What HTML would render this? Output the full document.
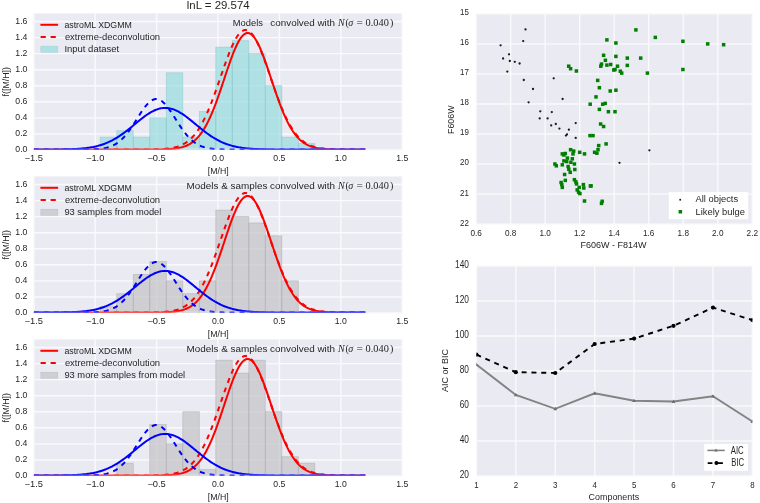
<!DOCTYPE html><html><head><meta charset="utf-8"><title>XDGMM</title><style>html,body{margin:0;padding:0;background:#fff;}svg{display:block;filter:blur(0.45px);}</style></head><body>
<svg width="760" height="503" viewBox="0 0 760 503">
<rect width="760" height="503" fill="#fff"/>
<clipPath id="cl0"><rect x="33.8" y="13.49" width="368.4" height="136.51"/></clipPath>
<rect x="33.8" y="13.49" width="368.4" height="136.51" fill="#EAEAF2"/>
<path d="M33.8,13.49V150M95.2,13.49V150M156.6,13.49V150M218,13.49V150M279.4,13.49V150M340.8,13.49V150M402.2,13.49V150M33.8,150H402.2M33.8,133.94H402.2M33.8,117.88H402.2M33.8,101.82H402.2M33.8,85.76H402.2M33.8,69.7H402.2M33.8,53.64H402.2M33.8,37.58H402.2M33.8,21.52H402.2" stroke="#FAFAFC" stroke-width="1.4" fill="none"/>
<g clip-path="url(#cl0)">
<rect x="100.27" y="137.14" width="16.5" height="12.86" fill="rgba(134,216,219,0.6)" stroke="rgba(130,196,202,0.5)" stroke-width="0.8"/>
<rect x="116.78" y="130.7" width="16.5" height="19.3" fill="rgba(134,216,219,0.6)" stroke="rgba(130,196,202,0.5)" stroke-width="0.8"/>
<rect x="133.28" y="137.14" width="16.5" height="12.86" fill="rgba(134,216,219,0.6)" stroke="rgba(130,196,202,0.5)" stroke-width="0.8"/>
<rect x="149.78" y="117.84" width="16.5" height="32.16" fill="rgba(134,216,219,0.6)" stroke="rgba(130,196,202,0.5)" stroke-width="0.8"/>
<rect x="166.29" y="72.82" width="16.5" height="77.18" fill="rgba(134,216,219,0.6)" stroke="rgba(130,196,202,0.5)" stroke-width="0.8"/>
<rect x="182.79" y="137.14" width="16.5" height="12.86" fill="rgba(134,216,219,0.6)" stroke="rgba(130,196,202,0.5)" stroke-width="0.8"/>
<rect x="199.3" y="111.41" width="16.5" height="38.59" fill="rgba(134,216,219,0.6)" stroke="rgba(130,196,202,0.5)" stroke-width="0.8"/>
<rect x="215.8" y="47.09" width="16.5" height="102.91" fill="rgba(134,216,219,0.6)" stroke="rgba(130,196,202,0.5)" stroke-width="0.8"/>
<rect x="232.31" y="40.66" width="16.5" height="109.34" fill="rgba(134,216,219,0.6)" stroke="rgba(130,196,202,0.5)" stroke-width="0.8"/>
<rect x="248.81" y="53.52" width="16.5" height="96.48" fill="rgba(134,216,219,0.6)" stroke="rgba(130,196,202,0.5)" stroke-width="0.8"/>
<rect x="265.31" y="85.68" width="16.5" height="64.32" fill="rgba(134,216,219,0.6)" stroke="rgba(130,196,202,0.5)" stroke-width="0.8"/>
<rect x="281.82" y="137.14" width="16.5" height="12.86" fill="rgba(134,216,219,0.6)" stroke="rgba(130,196,202,0.5)" stroke-width="0.8"/>
<rect x="298.32" y="143.57" width="16.5" height="6.43" fill="rgba(134,216,219,0.6)" stroke="rgba(130,196,202,0.5)" stroke-width="0.8"/>
<path d="M33.8,149.5 L34.91,149.5 L36.01,149.5 L37.12,149.5 L38.22,149.5 L39.33,149.5 L40.43,149.5 L41.54,149.5 L42.64,149.5 L43.75,149.5 L44.85,149.5 L45.96,149.5 L47.06,149.5 L48.17,149.5 L49.27,149.5 L50.38,149.5 L51.48,149.5 L52.59,149.5 L53.69,149.5 L54.8,149.5 L55.9,149.5 L57.01,149.5 L58.11,149.5 L59.22,149.5 L60.32,149.5 L61.43,149.5 L62.54,149.5 L63.64,149.5 L64.75,149.5 L65.85,149.5 L66.96,149.5 L68.06,149.5 L69.17,149.5 L70.27,149.5 L71.38,149.5 L72.48,149.5 L73.59,149.5 L74.69,149.5 L75.8,149.5 L76.9,149.5 L78.01,149.5 L79.11,149.5 L80.22,149.5 L81.32,149.5 L82.43,149.5 L83.53,149.5 L84.64,149.5 L85.74,149.5 L86.85,149.5 L87.95,149.5 L89.06,149.5 L90.17,149.5 L91.27,149.5 L92.38,149.5 L93.48,149.5 L94.59,149.5 L95.69,149.5 L96.8,149.5 L97.9,149.5 L99.01,149.5 L100.11,149.5 L101.22,149.5 L102.32,149.5 L103.43,149.5 L104.53,149.5 L105.64,149.5 L106.74,149.5 L107.85,149.5 L108.95,149.5 L110.06,149.5 L111.16,149.5 L112.27,149.5 L113.37,149.5 L114.48,149.5 L115.58,149.5 L116.69,149.5 L117.8,149.5 L118.9,149.5 L120.01,149.5 L121.11,149.5 L122.22,149.5 L123.32,149.5 L124.43,149.5 L125.53,149.5 L126.64,149.5 L127.74,149.5 L128.85,149.5 L129.95,149.5 L131.06,149.5 L132.16,149.5 L133.27,149.5 L134.37,149.5 L135.48,149.5 L136.58,149.5 L137.69,149.5 L138.79,149.5 L139.9,149.5 L141,149.5 L142.11,149.5 L143.21,149.49 L144.32,149.49 L145.43,149.49 L146.53,149.49 L147.64,149.49 L148.74,149.48 L149.85,149.48 L150.95,149.48 L152.06,149.47 L153.16,149.47 L154.27,149.46 L155.37,149.45 L156.48,149.44 L157.58,149.43 L158.69,149.41 L159.79,149.4 L160.9,149.38 L162,149.35 L163.11,149.33 L164.21,149.29 L165.32,149.26 L166.42,149.21 L167.53,149.16 L168.63,149.1 L169.74,149.04 L170.84,148.96 L171.95,148.87 L173.06,148.77 L174.16,148.65 L175.27,148.51 L176.37,148.36 L177.48,148.19 L178.58,147.99 L179.69,147.76 L180.79,147.51 L181.9,147.23 L183,146.91 L184.11,146.55 L185.21,146.16 L186.32,145.71 L187.42,145.22 L188.53,144.67 L189.63,144.07 L190.74,143.41 L191.84,142.68 L192.95,141.87 L194.05,141 L195.16,140.04 L196.26,139 L197.37,137.86 L198.47,136.64 L199.58,135.32 L200.69,133.9 L201.79,132.37 L202.9,130.73 L204,128.99 L205.11,127.13 L206.21,125.16 L207.32,123.07 L208.42,120.87 L209.53,118.55 L210.63,116.12 L211.74,113.58 L212.84,110.93 L213.95,108.17 L215.05,105.32 L216.16,102.38 L217.26,99.35 L218.37,96.24 L219.47,93.07 L220.58,89.84 L221.68,86.57 L222.79,83.26 L223.89,79.94 L225,76.61 L226.1,73.29 L227.21,70 L228.32,66.75 L229.42,63.55 L230.53,60.43 L231.63,57.41 L232.74,54.49 L233.84,51.69 L234.95,49.04 L236.05,46.54 L237.16,44.22 L238.26,42.08 L239.37,40.14 L240.47,38.41 L241.58,36.91 L242.68,35.64 L243.79,34.61 L244.89,33.83 L246,33.3 L247.1,33.02 L248.21,33.01 L249.31,33.25 L250.42,33.76 L251.52,34.51 L252.63,35.51 L253.73,36.76 L254.84,38.23 L255.95,39.94 L257.05,41.85 L258.16,43.97 L259.26,46.27 L260.37,48.75 L261.47,51.39 L262.58,54.17 L263.68,57.08 L264.79,60.09 L265.89,63.2 L267,66.39 L268.1,69.63 L269.21,72.92 L270.31,76.24 L271.42,79.57 L272.52,82.9 L273.63,86.2 L274.73,89.48 L275.84,92.71 L276.94,95.89 L278.05,99.01 L279.15,102.04 L280.26,105 L281.36,107.86 L282.47,110.63 L283.58,113.29 L284.68,115.84 L285.79,118.29 L286.89,120.62 L288,122.83 L289.1,124.93 L290.21,126.92 L291.31,128.79 L292.42,130.55 L293.52,132.19 L294.63,133.73 L295.73,135.17 L296.84,136.5 L297.94,137.73 L299.05,138.87 L300.15,139.93 L301.26,140.89 L302.36,141.78 L303.47,142.59 L304.57,143.33 L305.68,144 L306.78,144.61 L307.89,145.16 L308.99,145.66 L310.1,146.11 L311.21,146.51 L312.31,146.87 L313.42,147.19 L314.52,147.48 L315.63,147.74 L316.73,147.96 L317.84,148.16 L318.94,148.34 L320.05,148.5 L321.15,148.63 L322.26,148.75 L323.36,148.86 L324.47,148.95 L325.57,149.03 L326.68,149.1 L327.78,149.16 L328.89,149.21 L329.99,149.25 L331.1,149.29 L332.2,149.32 L333.31,149.35 L334.41,149.37 L335.52,149.39 L336.62,149.41 L337.73,149.43 L338.84,149.44 L339.94,149.45 L341.05,149.46 L342.15,149.46 L343.26,149.47 L344.36,149.48 L345.47,149.48 L346.57,149.48 L347.68,149.49 L348.78,149.49 L349.89,149.49 L350.99,149.49 L352.1,149.49 L353.2,149.5 L354.31,149.5 L355.41,149.5 L356.52,149.5 L357.62,149.5 L358.73,149.5 L359.83,149.5 L360.94,149.5 L362.04,149.5 L363.15,149.5 L364.25,149.5 L365.36,149.5" stroke="#FF0000" stroke-width="2" fill="none"/>
<path d="M33.8,149.5 L34.91,149.5 L36.01,149.5 L37.12,149.5 L38.22,149.5 L39.33,149.5 L40.43,149.5 L41.54,149.5 L42.64,149.5 L43.75,149.5 L44.85,149.5 L45.96,149.5 L47.06,149.5 L48.17,149.5 L49.27,149.5 L50.38,149.5 L51.48,149.5 L52.59,149.5 L53.69,149.5 L54.8,149.5 L55.9,149.5 L57.01,149.5 L58.11,149.5 L59.22,149.5 L60.32,149.5 L61.43,149.5 L62.54,149.5 L63.64,149.5 L64.75,149.5 L65.85,149.5 L66.96,149.5 L68.06,149.5 L69.17,149.5 L70.27,149.5 L71.38,149.5 L72.48,149.5 L73.59,149.5 L74.69,149.5 L75.8,149.5 L76.9,149.5 L78.01,149.5 L79.11,149.5 L80.22,149.5 L81.32,149.5 L82.43,149.5 L83.53,149.5 L84.64,149.5 L85.74,149.5 L86.85,149.5 L87.95,149.5 L89.06,149.5 L90.17,149.5 L91.27,149.5 L92.38,149.5 L93.48,149.5 L94.59,149.5 L95.69,149.5 L96.8,149.5 L97.9,149.5 L99.01,149.5 L100.11,149.5 L101.22,149.5 L102.32,149.5 L103.43,149.5 L104.53,149.5 L105.64,149.5 L106.74,149.5 L107.85,149.5 L108.95,149.5 L110.06,149.5 L111.16,149.5 L112.27,149.5 L113.37,149.5 L114.48,149.5 L115.58,149.5 L116.69,149.5 L117.8,149.5 L118.9,149.5 L120.01,149.5 L121.11,149.5 L122.22,149.5 L123.32,149.5 L124.43,149.5 L125.53,149.5 L126.64,149.5 L127.74,149.5 L128.85,149.5 L129.95,149.5 L131.06,149.5 L132.16,149.5 L133.27,149.5 L134.37,149.49 L135.48,149.49 L136.58,149.49 L137.69,149.49 L138.79,149.49 L139.9,149.48 L141,149.48 L142.11,149.48 L143.21,149.47 L144.32,149.47 L145.43,149.46 L146.53,149.45 L147.64,149.45 L148.74,149.44 L149.85,149.42 L150.95,149.41 L152.06,149.39 L153.16,149.37 L154.27,149.35 L155.37,149.33 L156.48,149.3 L157.58,149.26 L158.69,149.22 L159.79,149.18 L160.9,149.12 L162,149.06 L163.11,148.99 L164.21,148.91 L165.32,148.82 L166.42,148.72 L167.53,148.6 L168.63,148.47 L169.74,148.32 L170.84,148.15 L171.95,147.96 L173.06,147.75 L174.16,147.51 L175.27,147.24 L176.37,146.95 L177.48,146.62 L178.58,146.25 L179.69,145.84 L180.79,145.39 L181.9,144.89 L183,144.35 L184.11,143.75 L185.21,143.09 L186.32,142.37 L187.42,141.59 L188.53,140.73 L189.63,139.81 L190.74,138.81 L191.84,137.72 L192.95,136.56 L194.05,135.3 L195.16,133.96 L196.26,132.52 L197.37,130.98 L198.47,129.35 L199.58,127.61 L200.69,125.77 L201.79,123.83 L202.9,121.78 L204,119.62 L205.11,117.37 L206.21,115.01 L207.32,112.55 L208.42,109.99 L209.53,107.34 L210.63,104.59 L211.74,101.77 L212.84,98.86 L213.95,95.89 L215.05,92.85 L216.16,89.75 L217.26,86.61 L218.37,83.44 L219.47,80.24 L220.58,77.03 L221.68,73.82 L222.79,70.62 L223.89,67.45 L225,64.32 L226.1,61.24 L227.21,58.23 L228.32,55.3 L229.42,52.47 L230.53,49.76 L231.63,47.16 L232.74,44.71 L233.84,42.41 L234.95,40.27 L236.05,38.31 L237.16,36.53 L238.26,34.96 L239.37,33.58 L240.47,32.43 L241.58,31.49 L242.68,30.78 L243.79,30.3 L244.89,30.05 L246,30.04 L247.1,30.26 L248.21,30.71 L249.31,31.4 L250.42,32.31 L251.52,33.44 L252.63,34.79 L253.73,36.35 L254.84,38.1 L255.95,40.04 L257.05,42.16 L258.16,44.45 L259.26,46.88 L260.37,49.46 L261.47,52.17 L262.58,54.98 L263.68,57.9 L264.79,60.9 L265.89,63.97 L267,67.1 L268.1,70.26 L269.21,73.46 L270.31,76.67 L271.42,79.88 L272.52,83.08 L273.63,86.26 L274.73,89.41 L275.84,92.5 L276.94,95.55 L278.05,98.53 L279.15,101.45 L280.26,104.28 L281.36,107.04 L282.47,109.7 L283.58,112.27 L284.68,114.74 L285.79,117.11 L286.89,119.38 L288,121.54 L289.1,123.6 L290.21,125.56 L291.31,127.41 L292.42,129.16 L293.52,130.81 L294.63,132.35 L295.73,133.8 L296.84,135.16 L297.94,136.42 L299.05,137.6 L300.15,138.69 L301.26,139.7 L302.36,140.63 L303.47,141.49 L304.57,142.29 L305.68,143.01 L306.78,143.68 L307.89,144.28 L308.99,144.83 L310.1,145.34 L311.21,145.79 L312.31,146.2 L313.42,146.58 L314.52,146.91 L315.63,147.21 L316.73,147.48 L317.84,147.72 L318.94,147.94 L320.05,148.13 L321.15,148.3 L322.26,148.46 L323.36,148.59 L324.47,148.71 L325.57,148.81 L326.68,148.9 L327.78,148.98 L328.89,149.06 L329.99,149.12 L331.1,149.17 L332.2,149.22 L333.31,149.26 L334.41,149.29 L335.52,149.32 L336.62,149.35 L337.73,149.37 L338.84,149.39 L339.94,149.41 L341.05,149.42 L342.15,149.43 L343.26,149.45 L344.36,149.45 L345.47,149.46 L346.57,149.47 L347.68,149.47 L348.78,149.48 L349.89,149.48 L350.99,149.48 L352.1,149.49 L353.2,149.49 L354.31,149.49 L355.41,149.49 L356.52,149.49 L357.62,149.5 L358.73,149.5 L359.83,149.5 L360.94,149.5 L362.04,149.5 L363.15,149.5 L364.25,149.5 L365.36,149.5" stroke="#FF0000" stroke-width="2" fill="none" stroke-dasharray="5 5"/>
<path d="M33.8,149.5 L34.91,149.5 L36.01,149.5 L37.12,149.5 L38.22,149.5 L39.33,149.5 L40.43,149.5 L41.54,149.5 L42.64,149.5 L43.75,149.5 L44.85,149.5 L45.96,149.5 L47.06,149.5 L48.17,149.5 L49.27,149.5 L50.38,149.5 L51.48,149.5 L52.59,149.5 L53.69,149.5 L54.8,149.5 L55.9,149.5 L57.01,149.5 L58.11,149.5 L59.22,149.5 L60.32,149.5 L61.43,149.5 L62.54,149.5 L63.64,149.5 L64.75,149.5 L65.85,149.5 L66.96,149.5 L68.06,149.5 L69.17,149.5 L70.27,149.5 L71.38,149.5 L72.48,149.5 L73.59,149.49 L74.69,149.49 L75.8,149.49 L76.9,149.49 L78.01,149.49 L79.11,149.48 L80.22,149.48 L81.32,149.47 L82.43,149.47 L83.53,149.46 L84.64,149.45 L85.74,149.44 L86.85,149.42 L87.95,149.4 L89.06,149.38 L90.17,149.36 L91.27,149.33 L92.38,149.29 L93.48,149.25 L94.59,149.2 L95.69,149.14 L96.8,149.06 L97.9,148.98 L99.01,148.88 L100.11,148.77 L101.22,148.64 L102.32,148.49 L103.43,148.31 L104.53,148.12 L105.64,147.89 L106.74,147.63 L107.85,147.34 L108.95,147.01 L110.06,146.63 L111.16,146.22 L112.27,145.75 L113.37,145.24 L114.48,144.67 L115.58,144.04 L116.69,143.34 L117.8,142.59 L118.9,141.76 L120.01,140.87 L121.11,139.9 L122.22,138.87 L123.32,137.75 L124.43,136.57 L125.53,135.31 L126.64,133.98 L127.74,132.58 L128.85,131.11 L129.95,129.58 L131.06,128 L132.16,126.37 L133.27,124.69 L134.37,122.98 L135.48,121.25 L136.58,119.5 L137.69,117.75 L138.79,116 L139.9,114.28 L141,112.58 L142.11,110.94 L143.21,109.35 L144.32,107.83 L145.43,106.4 L146.53,105.07 L147.64,103.84 L148.74,102.74 L149.85,101.76 L150.95,100.93 L152.06,100.24 L153.16,99.71 L154.27,99.33 L155.37,99.12 L156.48,99.08 L157.58,99.2 L158.69,99.48 L159.79,99.92 L160.9,100.53 L162,101.28 L163.11,102.18 L164.21,103.21 L165.32,104.37 L166.42,105.65 L167.53,107.03 L168.63,108.5 L169.74,110.05 L170.84,111.66 L171.95,113.33 L173.06,115.04 L174.16,116.77 L175.27,118.52 L176.37,120.28 L177.48,122.02 L178.58,123.74 L179.69,125.44 L180.79,127.1 L181.9,128.71 L183,130.27 L184.11,131.77 L185.21,133.21 L186.32,134.58 L187.42,135.88 L188.53,137.1 L189.63,138.26 L190.74,139.34 L191.84,140.34 L192.95,141.28 L194.05,142.14 L195.16,142.93 L196.26,143.66 L197.37,144.32 L198.47,144.93 L199.58,145.47 L200.69,145.97 L201.79,146.41 L202.9,146.8 L204,147.16 L205.11,147.47 L206.21,147.75 L207.32,147.99 L208.42,148.21 L209.53,148.4 L210.63,148.56 L211.74,148.7 L212.84,148.82 L213.95,148.93 L215.05,149.02 L216.16,149.1 L217.26,149.16 L218.37,149.22 L219.47,149.27 L220.58,149.31 L221.68,149.34 L222.79,149.37 L223.89,149.39 L225,149.41 L226.1,149.43 L227.21,149.44 L228.32,149.45 L229.42,149.46 L230.53,149.47 L231.63,149.48 L232.74,149.48 L233.84,149.48 L234.95,149.49 L236.05,149.49 L237.16,149.49 L238.26,149.49 L239.37,149.5 L240.47,149.5 L241.58,149.5 L242.68,149.5 L243.79,149.5 L244.89,149.5 L246,149.5 L247.1,149.5 L248.21,149.5 L249.31,149.5 L250.42,149.5 L251.52,149.5 L252.63,149.5 L253.73,149.5 L254.84,149.5 L255.95,149.5 L257.05,149.5 L258.16,149.5 L259.26,149.5 L260.37,149.5 L261.47,149.5 L262.58,149.5 L263.68,149.5 L264.79,149.5 L265.89,149.5 L267,149.5 L268.1,149.5 L269.21,149.5 L270.31,149.5 L271.42,149.5 L272.52,149.5 L273.63,149.5 L274.73,149.5 L275.84,149.5 L276.94,149.5 L278.05,149.5 L279.15,149.5 L280.26,149.5 L281.36,149.5 L282.47,149.5 L283.58,149.5 L284.68,149.5 L285.79,149.5 L286.89,149.5 L288,149.5 L289.1,149.5 L290.21,149.5 L291.31,149.5 L292.42,149.5 L293.52,149.5 L294.63,149.5 L295.73,149.5 L296.84,149.5 L297.94,149.5 L299.05,149.5 L300.15,149.5 L301.26,149.5 L302.36,149.5 L303.47,149.5 L304.57,149.5 L305.68,149.5 L306.78,149.5 L307.89,149.5 L308.99,149.5 L310.1,149.5 L311.21,149.5 L312.31,149.5 L313.42,149.5 L314.52,149.5 L315.63,149.5 L316.73,149.5 L317.84,149.5 L318.94,149.5 L320.05,149.5 L321.15,149.5 L322.26,149.5 L323.36,149.5 L324.47,149.5 L325.57,149.5 L326.68,149.5 L327.78,149.5 L328.89,149.5 L329.99,149.5 L331.1,149.5 L332.2,149.5 L333.31,149.5 L334.41,149.5 L335.52,149.5 L336.62,149.5 L337.73,149.5 L338.84,149.5 L339.94,149.5 L341.05,149.5 L342.15,149.5 L343.26,149.5 L344.36,149.5 L345.47,149.5 L346.57,149.5 L347.68,149.5 L348.78,149.5 L349.89,149.5 L350.99,149.5 L352.1,149.5 L353.2,149.5 L354.31,149.5 L355.41,149.5 L356.52,149.5 L357.62,149.5 L358.73,149.5 L359.83,149.5 L360.94,149.5 L362.04,149.5 L363.15,149.5 L364.25,149.5 L365.36,149.5" stroke="#0000FF" stroke-width="2" fill="none" stroke-dasharray="5 5"/>
<path d="M33.8,149.5 L34.91,149.5 L36.01,149.49 L37.12,149.49 L38.22,149.49 L39.33,149.49 L40.43,149.49 L41.54,149.49 L42.64,149.49 L43.75,149.49 L44.85,149.48 L45.96,149.48 L47.06,149.48 L48.17,149.47 L49.27,149.47 L50.38,149.47 L51.48,149.46 L52.59,149.46 L53.69,149.45 L54.8,149.44 L55.9,149.43 L57.01,149.42 L58.11,149.41 L59.22,149.4 L60.32,149.39 L61.43,149.37 L62.54,149.36 L63.64,149.34 L64.75,149.32 L65.85,149.3 L66.96,149.27 L68.06,149.24 L69.17,149.21 L70.27,149.18 L71.38,149.14 L72.48,149.1 L73.59,149.05 L74.69,149 L75.8,148.94 L76.9,148.88 L78.01,148.81 L79.11,148.73 L80.22,148.65 L81.32,148.56 L82.43,148.46 L83.53,148.36 L84.64,148.24 L85.74,148.12 L86.85,147.98 L87.95,147.83 L89.06,147.67 L90.17,147.5 L91.27,147.31 L92.38,147.11 L93.48,146.9 L94.59,146.67 L95.69,146.42 L96.8,146.16 L97.9,145.88 L99.01,145.58 L100.11,145.26 L101.22,144.92 L102.32,144.56 L103.43,144.18 L104.53,143.78 L105.64,143.35 L106.74,142.91 L107.85,142.44 L108.95,141.94 L110.06,141.42 L111.16,140.88 L112.27,140.31 L113.37,139.72 L114.48,139.1 L115.58,138.46 L116.69,137.8 L117.8,137.11 L118.9,136.4 L120.01,135.67 L121.11,134.91 L122.22,134.13 L123.32,133.34 L124.43,132.52 L125.53,131.69 L126.64,130.84 L127.74,129.97 L128.85,129.1 L129.95,128.21 L131.06,127.31 L132.16,126.4 L133.27,125.49 L134.37,124.58 L135.48,123.66 L136.58,122.75 L137.69,121.84 L138.79,120.93 L139.9,120.04 L141,119.16 L142.11,118.29 L143.21,117.44 L144.32,116.61 L145.43,115.81 L146.53,115.03 L147.64,114.28 L148.74,113.55 L149.85,112.87 L150.95,112.21 L152.06,111.6 L153.16,111.03 L154.27,110.5 L155.37,110.01 L156.48,109.57 L157.58,109.18 L158.69,108.84 L159.79,108.55 L160.9,108.32 L162,108.13 L163.11,108 L164.21,107.93 L165.32,107.9 L166.42,107.94 L167.53,108.03 L168.63,108.17 L169.74,108.36 L170.84,108.61 L171.95,108.92 L173.06,109.27 L174.16,109.67 L175.27,110.12 L176.37,110.61 L177.48,111.15 L178.58,111.73 L179.69,112.36 L180.79,113.02 L181.9,113.71 L183,114.44 L184.11,115.2 L185.21,115.98 L186.32,116.8 L187.42,117.63 L188.53,118.48 L189.63,119.35 L190.74,120.24 L191.84,121.13 L192.95,122.04 L194.05,122.95 L195.16,123.86 L196.26,124.78 L197.37,125.69 L198.47,126.6 L199.58,127.51 L200.69,128.41 L201.79,129.29 L202.9,130.17 L204,131.03 L205.11,131.88 L206.21,132.7 L207.32,133.52 L208.42,134.31 L209.53,135.08 L210.63,135.83 L211.74,136.56 L212.84,137.27 L213.95,137.95 L215.05,138.61 L216.16,139.24 L217.26,139.85 L218.37,140.44 L219.47,141 L220.58,141.54 L221.68,142.05 L222.79,142.54 L223.89,143.01 L225,143.45 L226.1,143.87 L227.21,144.27 L228.32,144.64 L229.42,145 L230.53,145.33 L231.63,145.65 L232.74,145.94 L233.84,146.22 L234.95,146.48 L236.05,146.72 L237.16,146.95 L238.26,147.16 L239.37,147.36 L240.47,147.54 L241.58,147.71 L242.68,147.87 L243.79,148.01 L244.89,148.14 L246,148.27 L247.1,148.38 L248.21,148.49 L249.31,148.58 L250.42,148.67 L251.52,148.75 L252.63,148.83 L253.73,148.89 L254.84,148.95 L255.95,149.01 L257.05,149.06 L258.16,149.11 L259.26,149.15 L260.37,149.18 L261.47,149.22 L262.58,149.25 L263.68,149.28 L264.79,149.3 L265.89,149.32 L267,149.34 L268.1,149.36 L269.21,149.38 L270.31,149.39 L271.42,149.41 L272.52,149.42 L273.63,149.43 L274.73,149.44 L275.84,149.44 L276.94,149.45 L278.05,149.46 L279.15,149.46 L280.26,149.47 L281.36,149.47 L282.47,149.47 L283.58,149.48 L284.68,149.48 L285.79,149.48 L286.89,149.49 L288,149.49 L289.1,149.49 L290.21,149.49 L291.31,149.49 L292.42,149.49 L293.52,149.49 L294.63,149.5 L295.73,149.5 L296.84,149.5 L297.94,149.5 L299.05,149.5 L300.15,149.5 L301.26,149.5 L302.36,149.5 L303.47,149.5 L304.57,149.5 L305.68,149.5 L306.78,149.5 L307.89,149.5 L308.99,149.5 L310.1,149.5 L311.21,149.5 L312.31,149.5 L313.42,149.5 L314.52,149.5 L315.63,149.5 L316.73,149.5 L317.84,149.5 L318.94,149.5 L320.05,149.5 L321.15,149.5 L322.26,149.5 L323.36,149.5 L324.47,149.5 L325.57,149.5 L326.68,149.5 L327.78,149.5 L328.89,149.5 L329.99,149.5 L331.1,149.5 L332.2,149.5 L333.31,149.5 L334.41,149.5 L335.52,149.5 L336.62,149.5 L337.73,149.5 L338.84,149.5 L339.94,149.5 L341.05,149.5 L342.15,149.5 L343.26,149.5 L344.36,149.5 L345.47,149.5 L346.57,149.5 L347.68,149.5 L348.78,149.5 L349.89,149.5 L350.99,149.5 L352.1,149.5 L353.2,149.5 L354.31,149.5 L355.41,149.5 L356.52,149.5 L357.62,149.5 L358.73,149.5 L359.83,149.5 L360.94,149.5 L362.04,149.5 L363.15,149.5 L364.25,149.5 L365.36,149.5" stroke="#0000FF" stroke-width="2" fill="none"/>
<rect x="33.8" y="148.4" width="332.56" height="1.6" fill="#fff" fill-opacity="0.33"/>
</g>
<path d="M40.4,24.79H58.1" stroke="#FF0000" stroke-width="2"/>
<path d="M40.6,36.99H56.6" stroke="#FF0000" stroke-width="2" stroke-dasharray="5.2 4.8"/>
<rect x="40.8" y="46.19" width="17" height="6.2" fill="rgba(134,216,219,0.6)" stroke="rgba(130,196,202,0.5)" stroke-width="0.5"/>
<text x="64.4" y="27.69" font-size="8.8" text-anchor="start" fill="#262626" font-family='"Liberation Sans", sans-serif' textLength="67.4" lengthAdjust="spacingAndGlyphs">astroML XDGMM</text>
<text x="64.9" y="39.94" font-size="8.8" text-anchor="start" fill="#262626" font-family='"Liberation Sans", sans-serif' textLength="95.22" lengthAdjust="spacingAndGlyphs">extreme-deconvolution</text>
<text x="64.4" y="52.19" font-size="8.8" text-anchor="start" fill="#262626" font-family='"Liberation Sans", sans-serif' textLength="54.84" lengthAdjust="spacingAndGlyphs">Input dataset</text>
<text x="232.8" y="26.49" font-size="9" text-anchor="start" fill="#262626" font-family='"Liberation Sans", sans-serif' textLength="30.13" lengthAdjust="spacingAndGlyphs">Models</text>
<text x="335" y="26.49" font-size="9" text-anchor="end" fill="#262626" font-family='"Liberation Sans", sans-serif' textLength="64.62" lengthAdjust="spacingAndGlyphs">convolved with</text>
<text y="26.39" font-size="10" fill="#262626" font-family='"Liberation Serif", serif'><tspan x="338.0" font-style="italic">N</tspan><tspan x="345.4">(</tspan><tspan x="348.2" font-style="italic">&#963;</tspan><tspan x="356.6" textLength="6.4" lengthAdjust="spacingAndGlyphs">=</tspan><tspan x="365.6" textLength="23.2" lengthAdjust="spacingAndGlyphs">0.040</tspan><tspan x="390.0">)</tspan></text>
<text x="27.4" y="152.2" font-size="8.6" text-anchor="end" fill="#262626" font-family='"Liberation Sans", sans-serif' textLength="12.09" lengthAdjust="spacingAndGlyphs">0.0</text>
<text x="27.4" y="136.14" font-size="8.6" text-anchor="end" fill="#262626" font-family='"Liberation Sans", sans-serif' textLength="12.09" lengthAdjust="spacingAndGlyphs">0.2</text>
<text x="27.4" y="120.08" font-size="8.6" text-anchor="end" fill="#262626" font-family='"Liberation Sans", sans-serif' textLength="12.09" lengthAdjust="spacingAndGlyphs">0.4</text>
<text x="27.4" y="104.02" font-size="8.6" text-anchor="end" fill="#262626" font-family='"Liberation Sans", sans-serif' textLength="12.09" lengthAdjust="spacingAndGlyphs">0.6</text>
<text x="27.4" y="87.96" font-size="8.6" text-anchor="end" fill="#262626" font-family='"Liberation Sans", sans-serif' textLength="12.09" lengthAdjust="spacingAndGlyphs">0.8</text>
<text x="27.4" y="71.9" font-size="8.6" text-anchor="end" fill="#262626" font-family='"Liberation Sans", sans-serif' textLength="12.09" lengthAdjust="spacingAndGlyphs">1.0</text>
<text x="27.4" y="55.84" font-size="8.6" text-anchor="end" fill="#262626" font-family='"Liberation Sans", sans-serif' textLength="12.09" lengthAdjust="spacingAndGlyphs">1.2</text>
<text x="27.4" y="39.78" font-size="8.6" text-anchor="end" fill="#262626" font-family='"Liberation Sans", sans-serif' textLength="12.09" lengthAdjust="spacingAndGlyphs">1.4</text>
<text x="27.4" y="23.72" font-size="8.6" text-anchor="end" fill="#262626" font-family='"Liberation Sans", sans-serif' textLength="12.09" lengthAdjust="spacingAndGlyphs">1.6</text>
<text x="33.8" y="161.4" font-size="8.6" text-anchor="middle" fill="#262626" font-family='"Liberation Sans", sans-serif' textLength="18.45" lengthAdjust="spacingAndGlyphs">−1.5</text>
<text x="95.2" y="161.4" font-size="8.6" text-anchor="middle" fill="#262626" font-family='"Liberation Sans", sans-serif' textLength="18.45" lengthAdjust="spacingAndGlyphs">−1.0</text>
<text x="156.6" y="161.4" font-size="8.6" text-anchor="middle" fill="#262626" font-family='"Liberation Sans", sans-serif' textLength="18.45" lengthAdjust="spacingAndGlyphs">−0.5</text>
<text x="218" y="161.4" font-size="8.6" text-anchor="middle" fill="#262626" font-family='"Liberation Sans", sans-serif' textLength="12.09" lengthAdjust="spacingAndGlyphs">0.0</text>
<text x="279.4" y="161.4" font-size="8.6" text-anchor="middle" fill="#262626" font-family='"Liberation Sans", sans-serif' textLength="12.09" lengthAdjust="spacingAndGlyphs">0.5</text>
<text x="340.8" y="161.4" font-size="8.6" text-anchor="middle" fill="#262626" font-family='"Liberation Sans", sans-serif' textLength="12.09" lengthAdjust="spacingAndGlyphs">1.0</text>
<text x="402.2" y="161.4" font-size="8.6" text-anchor="middle" fill="#262626" font-family='"Liberation Sans", sans-serif' textLength="12.09" lengthAdjust="spacingAndGlyphs">1.5</text>
<text x="218.3" y="173.5" font-size="8.6" text-anchor="middle" fill="#262626" font-family='"Liberation Sans", sans-serif' textLength="21" lengthAdjust="spacingAndGlyphs">[M/H]</text>
<text x="0" y="0" font-size="8.6" text-anchor="middle" fill="#262626" font-family='"Liberation Sans", sans-serif' textLength="29.4" lengthAdjust="spacingAndGlyphs" transform="translate(9.0,81.75) rotate(-90)">f([M/H])</text>
<clipPath id="cl1"><rect x="33.8" y="176.49" width="368.4" height="136.51"/></clipPath>
<rect x="33.8" y="176.49" width="368.4" height="136.51" fill="#EAEAF2"/>
<path d="M33.8,176.49V313M95.2,176.49V313M156.6,176.49V313M218,176.49V313M279.4,176.49V313M340.8,176.49V313M402.2,176.49V313M33.8,313H402.2M33.8,296.94H402.2M33.8,280.88H402.2M33.8,264.82H402.2M33.8,248.76H402.2M33.8,232.7H402.2M33.8,216.64H402.2M33.8,200.58H402.2M33.8,184.52H402.2" stroke="#FAFAFC" stroke-width="1.4" fill="none"/>
<g clip-path="url(#cl1)">
<rect x="100.27" y="306.57" width="16.5" height="6.43" fill="rgba(186,186,190,0.6)" stroke="rgba(165,165,172,0.5)" stroke-width="0.8"/>
<rect x="116.78" y="293.7" width="16.5" height="19.3" fill="rgba(186,186,190,0.6)" stroke="rgba(165,165,172,0.5)" stroke-width="0.8"/>
<rect x="133.28" y="274.41" width="16.5" height="38.59" fill="rgba(186,186,190,0.6)" stroke="rgba(165,165,172,0.5)" stroke-width="0.8"/>
<rect x="149.78" y="261.54" width="16.5" height="51.46" fill="rgba(186,186,190,0.6)" stroke="rgba(165,165,172,0.5)" stroke-width="0.8"/>
<rect x="166.29" y="280.84" width="16.5" height="32.16" fill="rgba(186,186,190,0.6)" stroke="rgba(165,165,172,0.5)" stroke-width="0.8"/>
<rect x="182.79" y="293.7" width="16.5" height="19.3" fill="rgba(186,186,190,0.6)" stroke="rgba(165,165,172,0.5)" stroke-width="0.8"/>
<rect x="199.3" y="280.84" width="16.5" height="32.16" fill="rgba(186,186,190,0.6)" stroke="rgba(165,165,172,0.5)" stroke-width="0.8"/>
<rect x="215.8" y="210.09" width="16.5" height="102.91" fill="rgba(186,186,190,0.6)" stroke="rgba(165,165,172,0.5)" stroke-width="0.8"/>
<rect x="232.31" y="216.52" width="16.5" height="96.48" fill="rgba(186,186,190,0.6)" stroke="rgba(165,165,172,0.5)" stroke-width="0.8"/>
<rect x="248.81" y="222.95" width="16.5" height="90.05" fill="rgba(186,186,190,0.6)" stroke="rgba(165,165,172,0.5)" stroke-width="0.8"/>
<rect x="265.31" y="235.82" width="16.5" height="77.18" fill="rgba(186,186,190,0.6)" stroke="rgba(165,165,172,0.5)" stroke-width="0.8"/>
<rect x="281.82" y="280.84" width="16.5" height="32.16" fill="rgba(186,186,190,0.6)" stroke="rgba(165,165,172,0.5)" stroke-width="0.8"/>
<path d="M33.8,312.5 L34.91,312.5 L36.01,312.5 L37.12,312.5 L38.22,312.5 L39.33,312.5 L40.43,312.5 L41.54,312.5 L42.64,312.5 L43.75,312.5 L44.85,312.5 L45.96,312.5 L47.06,312.5 L48.17,312.5 L49.27,312.5 L50.38,312.5 L51.48,312.5 L52.59,312.5 L53.69,312.5 L54.8,312.5 L55.9,312.5 L57.01,312.5 L58.11,312.5 L59.22,312.5 L60.32,312.5 L61.43,312.5 L62.54,312.5 L63.64,312.5 L64.75,312.5 L65.85,312.5 L66.96,312.5 L68.06,312.5 L69.17,312.5 L70.27,312.5 L71.38,312.5 L72.48,312.5 L73.59,312.5 L74.69,312.5 L75.8,312.5 L76.9,312.5 L78.01,312.5 L79.11,312.5 L80.22,312.5 L81.32,312.5 L82.43,312.5 L83.53,312.5 L84.64,312.5 L85.74,312.5 L86.85,312.5 L87.95,312.5 L89.06,312.5 L90.17,312.5 L91.27,312.5 L92.38,312.5 L93.48,312.5 L94.59,312.5 L95.69,312.5 L96.8,312.5 L97.9,312.5 L99.01,312.5 L100.11,312.5 L101.22,312.5 L102.32,312.5 L103.43,312.5 L104.53,312.5 L105.64,312.5 L106.74,312.5 L107.85,312.5 L108.95,312.5 L110.06,312.5 L111.16,312.5 L112.27,312.5 L113.37,312.5 L114.48,312.5 L115.58,312.5 L116.69,312.5 L117.8,312.5 L118.9,312.5 L120.01,312.5 L121.11,312.5 L122.22,312.5 L123.32,312.5 L124.43,312.5 L125.53,312.5 L126.64,312.5 L127.74,312.5 L128.85,312.5 L129.95,312.5 L131.06,312.5 L132.16,312.5 L133.27,312.5 L134.37,312.5 L135.48,312.5 L136.58,312.5 L137.69,312.5 L138.79,312.5 L139.9,312.5 L141,312.5 L142.11,312.5 L143.21,312.49 L144.32,312.49 L145.43,312.49 L146.53,312.49 L147.64,312.49 L148.74,312.48 L149.85,312.48 L150.95,312.48 L152.06,312.47 L153.16,312.47 L154.27,312.46 L155.37,312.45 L156.48,312.44 L157.58,312.43 L158.69,312.41 L159.79,312.4 L160.9,312.38 L162,312.35 L163.11,312.33 L164.21,312.29 L165.32,312.26 L166.42,312.21 L167.53,312.16 L168.63,312.1 L169.74,312.04 L170.84,311.96 L171.95,311.87 L173.06,311.77 L174.16,311.65 L175.27,311.51 L176.37,311.36 L177.48,311.19 L178.58,310.99 L179.69,310.76 L180.79,310.51 L181.9,310.23 L183,309.91 L184.11,309.55 L185.21,309.16 L186.32,308.71 L187.42,308.22 L188.53,307.67 L189.63,307.07 L190.74,306.41 L191.84,305.68 L192.95,304.87 L194.05,304 L195.16,303.04 L196.26,302 L197.37,300.86 L198.47,299.64 L199.58,298.32 L200.69,296.9 L201.79,295.37 L202.9,293.73 L204,291.99 L205.11,290.13 L206.21,288.16 L207.32,286.07 L208.42,283.87 L209.53,281.55 L210.63,279.12 L211.74,276.58 L212.84,273.93 L213.95,271.17 L215.05,268.32 L216.16,265.38 L217.26,262.35 L218.37,259.24 L219.47,256.07 L220.58,252.84 L221.68,249.57 L222.79,246.26 L223.89,242.94 L225,239.61 L226.1,236.29 L227.21,233 L228.32,229.75 L229.42,226.55 L230.53,223.43 L231.63,220.41 L232.74,217.49 L233.84,214.69 L234.95,212.04 L236.05,209.54 L237.16,207.22 L238.26,205.08 L239.37,203.14 L240.47,201.41 L241.58,199.91 L242.68,198.64 L243.79,197.61 L244.89,196.83 L246,196.3 L247.1,196.02 L248.21,196.01 L249.31,196.25 L250.42,196.76 L251.52,197.51 L252.63,198.51 L253.73,199.76 L254.84,201.23 L255.95,202.94 L257.05,204.85 L258.16,206.97 L259.26,209.27 L260.37,211.75 L261.47,214.39 L262.58,217.17 L263.68,220.08 L264.79,223.09 L265.89,226.2 L267,229.39 L268.1,232.63 L269.21,235.92 L270.31,239.24 L271.42,242.57 L272.52,245.9 L273.63,249.2 L274.73,252.48 L275.84,255.71 L276.94,258.89 L278.05,262.01 L279.15,265.04 L280.26,268 L281.36,270.86 L282.47,273.63 L283.58,276.29 L284.68,278.84 L285.79,281.29 L286.89,283.62 L288,285.83 L289.1,287.93 L290.21,289.92 L291.31,291.79 L292.42,293.55 L293.52,295.19 L294.63,296.73 L295.73,298.17 L296.84,299.5 L297.94,300.73 L299.05,301.87 L300.15,302.93 L301.26,303.89 L302.36,304.78 L303.47,305.59 L304.57,306.33 L305.68,307 L306.78,307.61 L307.89,308.16 L308.99,308.66 L310.1,309.11 L311.21,309.51 L312.31,309.87 L313.42,310.19 L314.52,310.48 L315.63,310.74 L316.73,310.96 L317.84,311.16 L318.94,311.34 L320.05,311.5 L321.15,311.63 L322.26,311.75 L323.36,311.86 L324.47,311.95 L325.57,312.03 L326.68,312.1 L327.78,312.16 L328.89,312.21 L329.99,312.25 L331.1,312.29 L332.2,312.32 L333.31,312.35 L334.41,312.37 L335.52,312.39 L336.62,312.41 L337.73,312.43 L338.84,312.44 L339.94,312.45 L341.05,312.46 L342.15,312.46 L343.26,312.47 L344.36,312.48 L345.47,312.48 L346.57,312.48 L347.68,312.49 L348.78,312.49 L349.89,312.49 L350.99,312.49 L352.1,312.49 L353.2,312.5 L354.31,312.5 L355.41,312.5 L356.52,312.5 L357.62,312.5 L358.73,312.5 L359.83,312.5 L360.94,312.5 L362.04,312.5 L363.15,312.5 L364.25,312.5 L365.36,312.5" stroke="#FF0000" stroke-width="2" fill="none"/>
<path d="M33.8,312.5 L34.91,312.5 L36.01,312.5 L37.12,312.5 L38.22,312.5 L39.33,312.5 L40.43,312.5 L41.54,312.5 L42.64,312.5 L43.75,312.5 L44.85,312.5 L45.96,312.5 L47.06,312.5 L48.17,312.5 L49.27,312.5 L50.38,312.5 L51.48,312.5 L52.59,312.5 L53.69,312.5 L54.8,312.5 L55.9,312.5 L57.01,312.5 L58.11,312.5 L59.22,312.5 L60.32,312.5 L61.43,312.5 L62.54,312.5 L63.64,312.5 L64.75,312.5 L65.85,312.5 L66.96,312.5 L68.06,312.5 L69.17,312.5 L70.27,312.5 L71.38,312.5 L72.48,312.5 L73.59,312.5 L74.69,312.5 L75.8,312.5 L76.9,312.5 L78.01,312.5 L79.11,312.5 L80.22,312.5 L81.32,312.5 L82.43,312.5 L83.53,312.5 L84.64,312.5 L85.74,312.5 L86.85,312.5 L87.95,312.5 L89.06,312.5 L90.17,312.5 L91.27,312.5 L92.38,312.5 L93.48,312.5 L94.59,312.5 L95.69,312.5 L96.8,312.5 L97.9,312.5 L99.01,312.5 L100.11,312.5 L101.22,312.5 L102.32,312.5 L103.43,312.5 L104.53,312.5 L105.64,312.5 L106.74,312.5 L107.85,312.5 L108.95,312.5 L110.06,312.5 L111.16,312.5 L112.27,312.5 L113.37,312.5 L114.48,312.5 L115.58,312.5 L116.69,312.5 L117.8,312.5 L118.9,312.5 L120.01,312.5 L121.11,312.5 L122.22,312.5 L123.32,312.5 L124.43,312.5 L125.53,312.5 L126.64,312.5 L127.74,312.5 L128.85,312.5 L129.95,312.5 L131.06,312.5 L132.16,312.5 L133.27,312.5 L134.37,312.49 L135.48,312.49 L136.58,312.49 L137.69,312.49 L138.79,312.49 L139.9,312.48 L141,312.48 L142.11,312.48 L143.21,312.47 L144.32,312.47 L145.43,312.46 L146.53,312.45 L147.64,312.45 L148.74,312.44 L149.85,312.42 L150.95,312.41 L152.06,312.39 L153.16,312.37 L154.27,312.35 L155.37,312.33 L156.48,312.3 L157.58,312.26 L158.69,312.22 L159.79,312.18 L160.9,312.12 L162,312.06 L163.11,311.99 L164.21,311.91 L165.32,311.82 L166.42,311.72 L167.53,311.6 L168.63,311.47 L169.74,311.32 L170.84,311.15 L171.95,310.96 L173.06,310.75 L174.16,310.51 L175.27,310.24 L176.37,309.95 L177.48,309.62 L178.58,309.25 L179.69,308.84 L180.79,308.39 L181.9,307.89 L183,307.35 L184.11,306.75 L185.21,306.09 L186.32,305.37 L187.42,304.59 L188.53,303.73 L189.63,302.81 L190.74,301.81 L191.84,300.72 L192.95,299.56 L194.05,298.3 L195.16,296.96 L196.26,295.52 L197.37,293.98 L198.47,292.35 L199.58,290.61 L200.69,288.77 L201.79,286.83 L202.9,284.78 L204,282.62 L205.11,280.37 L206.21,278.01 L207.32,275.55 L208.42,272.99 L209.53,270.34 L210.63,267.59 L211.74,264.77 L212.84,261.86 L213.95,258.89 L215.05,255.85 L216.16,252.75 L217.26,249.61 L218.37,246.44 L219.47,243.24 L220.58,240.03 L221.68,236.82 L222.79,233.62 L223.89,230.45 L225,227.32 L226.1,224.24 L227.21,221.23 L228.32,218.3 L229.42,215.47 L230.53,212.76 L231.63,210.16 L232.74,207.71 L233.84,205.41 L234.95,203.27 L236.05,201.31 L237.16,199.53 L238.26,197.96 L239.37,196.58 L240.47,195.43 L241.58,194.49 L242.68,193.78 L243.79,193.3 L244.89,193.05 L246,193.04 L247.1,193.26 L248.21,193.71 L249.31,194.4 L250.42,195.31 L251.52,196.44 L252.63,197.79 L253.73,199.35 L254.84,201.1 L255.95,203.04 L257.05,205.16 L258.16,207.45 L259.26,209.88 L260.37,212.46 L261.47,215.17 L262.58,217.98 L263.68,220.9 L264.79,223.9 L265.89,226.97 L267,230.1 L268.1,233.26 L269.21,236.46 L270.31,239.67 L271.42,242.88 L272.52,246.08 L273.63,249.26 L274.73,252.41 L275.84,255.5 L276.94,258.55 L278.05,261.53 L279.15,264.45 L280.26,267.28 L281.36,270.04 L282.47,272.7 L283.58,275.27 L284.68,277.74 L285.79,280.11 L286.89,282.38 L288,284.54 L289.1,286.6 L290.21,288.56 L291.31,290.41 L292.42,292.16 L293.52,293.81 L294.63,295.35 L295.73,296.8 L296.84,298.16 L297.94,299.42 L299.05,300.6 L300.15,301.69 L301.26,302.7 L302.36,303.63 L303.47,304.49 L304.57,305.29 L305.68,306.01 L306.78,306.68 L307.89,307.28 L308.99,307.83 L310.1,308.34 L311.21,308.79 L312.31,309.2 L313.42,309.58 L314.52,309.91 L315.63,310.21 L316.73,310.48 L317.84,310.72 L318.94,310.94 L320.05,311.13 L321.15,311.3 L322.26,311.46 L323.36,311.59 L324.47,311.71 L325.57,311.81 L326.68,311.9 L327.78,311.98 L328.89,312.06 L329.99,312.12 L331.1,312.17 L332.2,312.22 L333.31,312.26 L334.41,312.29 L335.52,312.32 L336.62,312.35 L337.73,312.37 L338.84,312.39 L339.94,312.41 L341.05,312.42 L342.15,312.43 L343.26,312.45 L344.36,312.45 L345.47,312.46 L346.57,312.47 L347.68,312.47 L348.78,312.48 L349.89,312.48 L350.99,312.48 L352.1,312.49 L353.2,312.49 L354.31,312.49 L355.41,312.49 L356.52,312.49 L357.62,312.5 L358.73,312.5 L359.83,312.5 L360.94,312.5 L362.04,312.5 L363.15,312.5 L364.25,312.5 L365.36,312.5" stroke="#FF0000" stroke-width="2" fill="none" stroke-dasharray="5 5"/>
<path d="M33.8,312.5 L34.91,312.5 L36.01,312.5 L37.12,312.5 L38.22,312.5 L39.33,312.5 L40.43,312.5 L41.54,312.5 L42.64,312.5 L43.75,312.5 L44.85,312.5 L45.96,312.5 L47.06,312.5 L48.17,312.5 L49.27,312.5 L50.38,312.5 L51.48,312.5 L52.59,312.5 L53.69,312.5 L54.8,312.5 L55.9,312.5 L57.01,312.5 L58.11,312.5 L59.22,312.5 L60.32,312.5 L61.43,312.5 L62.54,312.5 L63.64,312.5 L64.75,312.5 L65.85,312.5 L66.96,312.5 L68.06,312.5 L69.17,312.5 L70.27,312.5 L71.38,312.5 L72.48,312.5 L73.59,312.49 L74.69,312.49 L75.8,312.49 L76.9,312.49 L78.01,312.49 L79.11,312.48 L80.22,312.48 L81.32,312.47 L82.43,312.47 L83.53,312.46 L84.64,312.45 L85.74,312.44 L86.85,312.42 L87.95,312.4 L89.06,312.38 L90.17,312.36 L91.27,312.33 L92.38,312.29 L93.48,312.25 L94.59,312.2 L95.69,312.14 L96.8,312.06 L97.9,311.98 L99.01,311.88 L100.11,311.77 L101.22,311.64 L102.32,311.49 L103.43,311.31 L104.53,311.12 L105.64,310.89 L106.74,310.63 L107.85,310.34 L108.95,310.01 L110.06,309.63 L111.16,309.22 L112.27,308.75 L113.37,308.24 L114.48,307.67 L115.58,307.04 L116.69,306.34 L117.8,305.59 L118.9,304.76 L120.01,303.87 L121.11,302.9 L122.22,301.87 L123.32,300.75 L124.43,299.57 L125.53,298.31 L126.64,296.98 L127.74,295.58 L128.85,294.11 L129.95,292.58 L131.06,291 L132.16,289.37 L133.27,287.69 L134.37,285.98 L135.48,284.25 L136.58,282.5 L137.69,280.75 L138.79,279 L139.9,277.28 L141,275.58 L142.11,273.94 L143.21,272.35 L144.32,270.83 L145.43,269.4 L146.53,268.07 L147.64,266.84 L148.74,265.74 L149.85,264.76 L150.95,263.93 L152.06,263.24 L153.16,262.71 L154.27,262.33 L155.37,262.12 L156.48,262.08 L157.58,262.2 L158.69,262.48 L159.79,262.92 L160.9,263.53 L162,264.28 L163.11,265.18 L164.21,266.21 L165.32,267.37 L166.42,268.65 L167.53,270.03 L168.63,271.5 L169.74,273.05 L170.84,274.66 L171.95,276.33 L173.06,278.04 L174.16,279.77 L175.27,281.52 L176.37,283.28 L177.48,285.02 L178.58,286.74 L179.69,288.44 L180.79,290.1 L181.9,291.71 L183,293.27 L184.11,294.77 L185.21,296.21 L186.32,297.58 L187.42,298.88 L188.53,300.1 L189.63,301.26 L190.74,302.34 L191.84,303.34 L192.95,304.28 L194.05,305.14 L195.16,305.93 L196.26,306.66 L197.37,307.32 L198.47,307.93 L199.58,308.47 L200.69,308.97 L201.79,309.41 L202.9,309.8 L204,310.16 L205.11,310.47 L206.21,310.75 L207.32,310.99 L208.42,311.21 L209.53,311.4 L210.63,311.56 L211.74,311.7 L212.84,311.82 L213.95,311.93 L215.05,312.02 L216.16,312.1 L217.26,312.16 L218.37,312.22 L219.47,312.27 L220.58,312.31 L221.68,312.34 L222.79,312.37 L223.89,312.39 L225,312.41 L226.1,312.43 L227.21,312.44 L228.32,312.45 L229.42,312.46 L230.53,312.47 L231.63,312.48 L232.74,312.48 L233.84,312.48 L234.95,312.49 L236.05,312.49 L237.16,312.49 L238.26,312.49 L239.37,312.5 L240.47,312.5 L241.58,312.5 L242.68,312.5 L243.79,312.5 L244.89,312.5 L246,312.5 L247.1,312.5 L248.21,312.5 L249.31,312.5 L250.42,312.5 L251.52,312.5 L252.63,312.5 L253.73,312.5 L254.84,312.5 L255.95,312.5 L257.05,312.5 L258.16,312.5 L259.26,312.5 L260.37,312.5 L261.47,312.5 L262.58,312.5 L263.68,312.5 L264.79,312.5 L265.89,312.5 L267,312.5 L268.1,312.5 L269.21,312.5 L270.31,312.5 L271.42,312.5 L272.52,312.5 L273.63,312.5 L274.73,312.5 L275.84,312.5 L276.94,312.5 L278.05,312.5 L279.15,312.5 L280.26,312.5 L281.36,312.5 L282.47,312.5 L283.58,312.5 L284.68,312.5 L285.79,312.5 L286.89,312.5 L288,312.5 L289.1,312.5 L290.21,312.5 L291.31,312.5 L292.42,312.5 L293.52,312.5 L294.63,312.5 L295.73,312.5 L296.84,312.5 L297.94,312.5 L299.05,312.5 L300.15,312.5 L301.26,312.5 L302.36,312.5 L303.47,312.5 L304.57,312.5 L305.68,312.5 L306.78,312.5 L307.89,312.5 L308.99,312.5 L310.1,312.5 L311.21,312.5 L312.31,312.5 L313.42,312.5 L314.52,312.5 L315.63,312.5 L316.73,312.5 L317.84,312.5 L318.94,312.5 L320.05,312.5 L321.15,312.5 L322.26,312.5 L323.36,312.5 L324.47,312.5 L325.57,312.5 L326.68,312.5 L327.78,312.5 L328.89,312.5 L329.99,312.5 L331.1,312.5 L332.2,312.5 L333.31,312.5 L334.41,312.5 L335.52,312.5 L336.62,312.5 L337.73,312.5 L338.84,312.5 L339.94,312.5 L341.05,312.5 L342.15,312.5 L343.26,312.5 L344.36,312.5 L345.47,312.5 L346.57,312.5 L347.68,312.5 L348.78,312.5 L349.89,312.5 L350.99,312.5 L352.1,312.5 L353.2,312.5 L354.31,312.5 L355.41,312.5 L356.52,312.5 L357.62,312.5 L358.73,312.5 L359.83,312.5 L360.94,312.5 L362.04,312.5 L363.15,312.5 L364.25,312.5 L365.36,312.5" stroke="#0000FF" stroke-width="2" fill="none" stroke-dasharray="5 5"/>
<path d="M33.8,312.5 L34.91,312.5 L36.01,312.49 L37.12,312.49 L38.22,312.49 L39.33,312.49 L40.43,312.49 L41.54,312.49 L42.64,312.49 L43.75,312.49 L44.85,312.48 L45.96,312.48 L47.06,312.48 L48.17,312.47 L49.27,312.47 L50.38,312.47 L51.48,312.46 L52.59,312.46 L53.69,312.45 L54.8,312.44 L55.9,312.43 L57.01,312.42 L58.11,312.41 L59.22,312.4 L60.32,312.39 L61.43,312.37 L62.54,312.36 L63.64,312.34 L64.75,312.32 L65.85,312.3 L66.96,312.27 L68.06,312.24 L69.17,312.21 L70.27,312.18 L71.38,312.14 L72.48,312.1 L73.59,312.05 L74.69,312 L75.8,311.94 L76.9,311.88 L78.01,311.81 L79.11,311.73 L80.22,311.65 L81.32,311.56 L82.43,311.46 L83.53,311.36 L84.64,311.24 L85.74,311.12 L86.85,310.98 L87.95,310.83 L89.06,310.67 L90.17,310.5 L91.27,310.31 L92.38,310.11 L93.48,309.9 L94.59,309.67 L95.69,309.42 L96.8,309.16 L97.9,308.88 L99.01,308.58 L100.11,308.26 L101.22,307.92 L102.32,307.56 L103.43,307.18 L104.53,306.78 L105.64,306.35 L106.74,305.91 L107.85,305.44 L108.95,304.94 L110.06,304.42 L111.16,303.88 L112.27,303.31 L113.37,302.72 L114.48,302.1 L115.58,301.46 L116.69,300.8 L117.8,300.11 L118.9,299.4 L120.01,298.67 L121.11,297.91 L122.22,297.13 L123.32,296.34 L124.43,295.52 L125.53,294.69 L126.64,293.84 L127.74,292.97 L128.85,292.1 L129.95,291.21 L131.06,290.31 L132.16,289.4 L133.27,288.49 L134.37,287.58 L135.48,286.66 L136.58,285.75 L137.69,284.84 L138.79,283.93 L139.9,283.04 L141,282.16 L142.11,281.29 L143.21,280.44 L144.32,279.61 L145.43,278.81 L146.53,278.03 L147.64,277.28 L148.74,276.55 L149.85,275.87 L150.95,275.21 L152.06,274.6 L153.16,274.03 L154.27,273.5 L155.37,273.01 L156.48,272.57 L157.58,272.18 L158.69,271.84 L159.79,271.55 L160.9,271.32 L162,271.13 L163.11,271 L164.21,270.93 L165.32,270.9 L166.42,270.94 L167.53,271.03 L168.63,271.17 L169.74,271.36 L170.84,271.61 L171.95,271.92 L173.06,272.27 L174.16,272.67 L175.27,273.12 L176.37,273.61 L177.48,274.15 L178.58,274.73 L179.69,275.36 L180.79,276.02 L181.9,276.71 L183,277.44 L184.11,278.2 L185.21,278.98 L186.32,279.8 L187.42,280.63 L188.53,281.48 L189.63,282.35 L190.74,283.24 L191.84,284.13 L192.95,285.04 L194.05,285.95 L195.16,286.86 L196.26,287.78 L197.37,288.69 L198.47,289.6 L199.58,290.51 L200.69,291.41 L201.79,292.29 L202.9,293.17 L204,294.03 L205.11,294.88 L206.21,295.7 L207.32,296.52 L208.42,297.31 L209.53,298.08 L210.63,298.83 L211.74,299.56 L212.84,300.27 L213.95,300.95 L215.05,301.61 L216.16,302.24 L217.26,302.85 L218.37,303.44 L219.47,304 L220.58,304.54 L221.68,305.05 L222.79,305.54 L223.89,306.01 L225,306.45 L226.1,306.87 L227.21,307.27 L228.32,307.64 L229.42,308 L230.53,308.33 L231.63,308.65 L232.74,308.94 L233.84,309.22 L234.95,309.48 L236.05,309.72 L237.16,309.95 L238.26,310.16 L239.37,310.36 L240.47,310.54 L241.58,310.71 L242.68,310.87 L243.79,311.01 L244.89,311.14 L246,311.27 L247.1,311.38 L248.21,311.49 L249.31,311.58 L250.42,311.67 L251.52,311.75 L252.63,311.83 L253.73,311.89 L254.84,311.95 L255.95,312.01 L257.05,312.06 L258.16,312.11 L259.26,312.15 L260.37,312.18 L261.47,312.22 L262.58,312.25 L263.68,312.28 L264.79,312.3 L265.89,312.32 L267,312.34 L268.1,312.36 L269.21,312.38 L270.31,312.39 L271.42,312.41 L272.52,312.42 L273.63,312.43 L274.73,312.44 L275.84,312.44 L276.94,312.45 L278.05,312.46 L279.15,312.46 L280.26,312.47 L281.36,312.47 L282.47,312.47 L283.58,312.48 L284.68,312.48 L285.79,312.48 L286.89,312.49 L288,312.49 L289.1,312.49 L290.21,312.49 L291.31,312.49 L292.42,312.49 L293.52,312.49 L294.63,312.5 L295.73,312.5 L296.84,312.5 L297.94,312.5 L299.05,312.5 L300.15,312.5 L301.26,312.5 L302.36,312.5 L303.47,312.5 L304.57,312.5 L305.68,312.5 L306.78,312.5 L307.89,312.5 L308.99,312.5 L310.1,312.5 L311.21,312.5 L312.31,312.5 L313.42,312.5 L314.52,312.5 L315.63,312.5 L316.73,312.5 L317.84,312.5 L318.94,312.5 L320.05,312.5 L321.15,312.5 L322.26,312.5 L323.36,312.5 L324.47,312.5 L325.57,312.5 L326.68,312.5 L327.78,312.5 L328.89,312.5 L329.99,312.5 L331.1,312.5 L332.2,312.5 L333.31,312.5 L334.41,312.5 L335.52,312.5 L336.62,312.5 L337.73,312.5 L338.84,312.5 L339.94,312.5 L341.05,312.5 L342.15,312.5 L343.26,312.5 L344.36,312.5 L345.47,312.5 L346.57,312.5 L347.68,312.5 L348.78,312.5 L349.89,312.5 L350.99,312.5 L352.1,312.5 L353.2,312.5 L354.31,312.5 L355.41,312.5 L356.52,312.5 L357.62,312.5 L358.73,312.5 L359.83,312.5 L360.94,312.5 L362.04,312.5 L363.15,312.5 L364.25,312.5 L365.36,312.5" stroke="#0000FF" stroke-width="2" fill="none"/>
<rect x="33.8" y="311.4" width="332.56" height="1.6" fill="#fff" fill-opacity="0.33"/>
</g>
<path d="M40.4,187.79H58.1" stroke="#FF0000" stroke-width="2"/>
<path d="M40.6,199.99H56.6" stroke="#FF0000" stroke-width="2" stroke-dasharray="5.2 4.8"/>
<rect x="40.8" y="209.19" width="17" height="6.2" fill="rgba(186,186,190,0.6)" stroke="rgba(165,165,172,0.5)" stroke-width="0.5"/>
<text x="64.4" y="190.69" font-size="8.8" text-anchor="start" fill="#262626" font-family='"Liberation Sans", sans-serif' textLength="67.4" lengthAdjust="spacingAndGlyphs">astroML XDGMM</text>
<text x="64.9" y="202.94" font-size="8.8" text-anchor="start" fill="#262626" font-family='"Liberation Sans", sans-serif' textLength="95.22" lengthAdjust="spacingAndGlyphs">extreme-deconvolution</text>
<text x="64.4" y="215.19" font-size="8.8" text-anchor="start" fill="#262626" font-family='"Liberation Sans", sans-serif' textLength="96.95" lengthAdjust="spacingAndGlyphs">93 samples from model</text>
<text x="186.5" y="189.49" font-size="9" text-anchor="start" fill="#262626" font-family='"Liberation Sans", sans-serif' textLength="148.5" lengthAdjust="spacingAndGlyphs">Models &amp; samples convolved with</text>
<text y="189.39" font-size="10" fill="#262626" font-family='"Liberation Serif", serif'><tspan x="338.0" font-style="italic">N</tspan><tspan x="345.4">(</tspan><tspan x="348.2" font-style="italic">&#963;</tspan><tspan x="356.6" textLength="6.4" lengthAdjust="spacingAndGlyphs">=</tspan><tspan x="365.6" textLength="23.2" lengthAdjust="spacingAndGlyphs">0.040</tspan><tspan x="390.0">)</tspan></text>
<text x="27.4" y="315.2" font-size="8.6" text-anchor="end" fill="#262626" font-family='"Liberation Sans", sans-serif' textLength="12.09" lengthAdjust="spacingAndGlyphs">0.0</text>
<text x="27.4" y="299.14" font-size="8.6" text-anchor="end" fill="#262626" font-family='"Liberation Sans", sans-serif' textLength="12.09" lengthAdjust="spacingAndGlyphs">0.2</text>
<text x="27.4" y="283.08" font-size="8.6" text-anchor="end" fill="#262626" font-family='"Liberation Sans", sans-serif' textLength="12.09" lengthAdjust="spacingAndGlyphs">0.4</text>
<text x="27.4" y="267.02" font-size="8.6" text-anchor="end" fill="#262626" font-family='"Liberation Sans", sans-serif' textLength="12.09" lengthAdjust="spacingAndGlyphs">0.6</text>
<text x="27.4" y="250.96" font-size="8.6" text-anchor="end" fill="#262626" font-family='"Liberation Sans", sans-serif' textLength="12.09" lengthAdjust="spacingAndGlyphs">0.8</text>
<text x="27.4" y="234.9" font-size="8.6" text-anchor="end" fill="#262626" font-family='"Liberation Sans", sans-serif' textLength="12.09" lengthAdjust="spacingAndGlyphs">1.0</text>
<text x="27.4" y="218.84" font-size="8.6" text-anchor="end" fill="#262626" font-family='"Liberation Sans", sans-serif' textLength="12.09" lengthAdjust="spacingAndGlyphs">1.2</text>
<text x="27.4" y="202.78" font-size="8.6" text-anchor="end" fill="#262626" font-family='"Liberation Sans", sans-serif' textLength="12.09" lengthAdjust="spacingAndGlyphs">1.4</text>
<text x="27.4" y="186.72" font-size="8.6" text-anchor="end" fill="#262626" font-family='"Liberation Sans", sans-serif' textLength="12.09" lengthAdjust="spacingAndGlyphs">1.6</text>
<text x="33.8" y="324.4" font-size="8.6" text-anchor="middle" fill="#262626" font-family='"Liberation Sans", sans-serif' textLength="18.45" lengthAdjust="spacingAndGlyphs">−1.5</text>
<text x="95.2" y="324.4" font-size="8.6" text-anchor="middle" fill="#262626" font-family='"Liberation Sans", sans-serif' textLength="18.45" lengthAdjust="spacingAndGlyphs">−1.0</text>
<text x="156.6" y="324.4" font-size="8.6" text-anchor="middle" fill="#262626" font-family='"Liberation Sans", sans-serif' textLength="18.45" lengthAdjust="spacingAndGlyphs">−0.5</text>
<text x="218" y="324.4" font-size="8.6" text-anchor="middle" fill="#262626" font-family='"Liberation Sans", sans-serif' textLength="12.09" lengthAdjust="spacingAndGlyphs">0.0</text>
<text x="279.4" y="324.4" font-size="8.6" text-anchor="middle" fill="#262626" font-family='"Liberation Sans", sans-serif' textLength="12.09" lengthAdjust="spacingAndGlyphs">0.5</text>
<text x="340.8" y="324.4" font-size="8.6" text-anchor="middle" fill="#262626" font-family='"Liberation Sans", sans-serif' textLength="12.09" lengthAdjust="spacingAndGlyphs">1.0</text>
<text x="402.2" y="324.4" font-size="8.6" text-anchor="middle" fill="#262626" font-family='"Liberation Sans", sans-serif' textLength="12.09" lengthAdjust="spacingAndGlyphs">1.5</text>
<text x="218.3" y="336.5" font-size="8.6" text-anchor="middle" fill="#262626" font-family='"Liberation Sans", sans-serif' textLength="21" lengthAdjust="spacingAndGlyphs">[M/H]</text>
<text x="0" y="0" font-size="8.6" text-anchor="middle" fill="#262626" font-family='"Liberation Sans", sans-serif' textLength="29.4" lengthAdjust="spacingAndGlyphs" transform="translate(9.0,244.75) rotate(-90)">f([M/H])</text>
<clipPath id="cl2"><rect x="33.8" y="339.49" width="368.4" height="136.51"/></clipPath>
<rect x="33.8" y="339.49" width="368.4" height="136.51" fill="#EAEAF2"/>
<path d="M33.8,339.49V476M95.2,339.49V476M156.6,339.49V476M218,339.49V476M279.4,339.49V476M340.8,339.49V476M402.2,339.49V476M33.8,476H402.2M33.8,459.94H402.2M33.8,443.88H402.2M33.8,427.82H402.2M33.8,411.76H402.2M33.8,395.7H402.2M33.8,379.64H402.2M33.8,363.58H402.2M33.8,347.52H402.2" stroke="#FAFAFC" stroke-width="1.4" fill="none"/>
<g clip-path="url(#cl2)">
<rect x="116.78" y="463.14" width="16.5" height="12.86" fill="rgba(186,186,190,0.6)" stroke="rgba(165,165,172,0.5)" stroke-width="0.8"/>
<rect x="149.78" y="424.54" width="16.5" height="51.46" fill="rgba(186,186,190,0.6)" stroke="rgba(165,165,172,0.5)" stroke-width="0.8"/>
<rect x="166.29" y="443.84" width="16.5" height="32.16" fill="rgba(186,186,190,0.6)" stroke="rgba(165,165,172,0.5)" stroke-width="0.8"/>
<rect x="182.79" y="411.68" width="16.5" height="64.32" fill="rgba(186,186,190,0.6)" stroke="rgba(165,165,172,0.5)" stroke-width="0.8"/>
<rect x="199.3" y="469.57" width="16.5" height="6.43" fill="rgba(186,186,190,0.6)" stroke="rgba(165,165,172,0.5)" stroke-width="0.8"/>
<rect x="215.8" y="360.22" width="16.5" height="115.78" fill="rgba(186,186,190,0.6)" stroke="rgba(165,165,172,0.5)" stroke-width="0.8"/>
<rect x="232.31" y="373.09" width="16.5" height="102.91" fill="rgba(186,186,190,0.6)" stroke="rgba(165,165,172,0.5)" stroke-width="0.8"/>
<rect x="248.81" y="360.22" width="16.5" height="115.78" fill="rgba(186,186,190,0.6)" stroke="rgba(165,165,172,0.5)" stroke-width="0.8"/>
<rect x="265.31" y="411.68" width="16.5" height="64.32" fill="rgba(186,186,190,0.6)" stroke="rgba(165,165,172,0.5)" stroke-width="0.8"/>
<rect x="281.82" y="456.7" width="16.5" height="19.3" fill="rgba(186,186,190,0.6)" stroke="rgba(165,165,172,0.5)" stroke-width="0.8"/>
<rect x="298.32" y="463.14" width="16.5" height="12.86" fill="rgba(186,186,190,0.6)" stroke="rgba(165,165,172,0.5)" stroke-width="0.8"/>
<path d="M33.8,475.5 L34.91,475.5 L36.01,475.5 L37.12,475.5 L38.22,475.5 L39.33,475.5 L40.43,475.5 L41.54,475.5 L42.64,475.5 L43.75,475.5 L44.85,475.5 L45.96,475.5 L47.06,475.5 L48.17,475.5 L49.27,475.5 L50.38,475.5 L51.48,475.5 L52.59,475.5 L53.69,475.5 L54.8,475.5 L55.9,475.5 L57.01,475.5 L58.11,475.5 L59.22,475.5 L60.32,475.5 L61.43,475.5 L62.54,475.5 L63.64,475.5 L64.75,475.5 L65.85,475.5 L66.96,475.5 L68.06,475.5 L69.17,475.5 L70.27,475.5 L71.38,475.5 L72.48,475.5 L73.59,475.5 L74.69,475.5 L75.8,475.5 L76.9,475.5 L78.01,475.5 L79.11,475.5 L80.22,475.5 L81.32,475.5 L82.43,475.5 L83.53,475.5 L84.64,475.5 L85.74,475.5 L86.85,475.5 L87.95,475.5 L89.06,475.5 L90.17,475.5 L91.27,475.5 L92.38,475.5 L93.48,475.5 L94.59,475.5 L95.69,475.5 L96.8,475.5 L97.9,475.5 L99.01,475.5 L100.11,475.5 L101.22,475.5 L102.32,475.5 L103.43,475.5 L104.53,475.5 L105.64,475.5 L106.74,475.5 L107.85,475.5 L108.95,475.5 L110.06,475.5 L111.16,475.5 L112.27,475.5 L113.37,475.5 L114.48,475.5 L115.58,475.5 L116.69,475.5 L117.8,475.5 L118.9,475.5 L120.01,475.5 L121.11,475.5 L122.22,475.5 L123.32,475.5 L124.43,475.5 L125.53,475.5 L126.64,475.5 L127.74,475.5 L128.85,475.5 L129.95,475.5 L131.06,475.5 L132.16,475.5 L133.27,475.5 L134.37,475.5 L135.48,475.5 L136.58,475.5 L137.69,475.5 L138.79,475.5 L139.9,475.5 L141,475.5 L142.11,475.5 L143.21,475.49 L144.32,475.49 L145.43,475.49 L146.53,475.49 L147.64,475.49 L148.74,475.48 L149.85,475.48 L150.95,475.48 L152.06,475.47 L153.16,475.47 L154.27,475.46 L155.37,475.45 L156.48,475.44 L157.58,475.43 L158.69,475.41 L159.79,475.4 L160.9,475.38 L162,475.35 L163.11,475.33 L164.21,475.29 L165.32,475.26 L166.42,475.21 L167.53,475.16 L168.63,475.1 L169.74,475.04 L170.84,474.96 L171.95,474.87 L173.06,474.77 L174.16,474.65 L175.27,474.51 L176.37,474.36 L177.48,474.19 L178.58,473.99 L179.69,473.76 L180.79,473.51 L181.9,473.23 L183,472.91 L184.11,472.55 L185.21,472.16 L186.32,471.71 L187.42,471.22 L188.53,470.67 L189.63,470.07 L190.74,469.41 L191.84,468.68 L192.95,467.87 L194.05,467 L195.16,466.04 L196.26,465 L197.37,463.86 L198.47,462.64 L199.58,461.32 L200.69,459.9 L201.79,458.37 L202.9,456.73 L204,454.99 L205.11,453.13 L206.21,451.16 L207.32,449.07 L208.42,446.87 L209.53,444.55 L210.63,442.12 L211.74,439.58 L212.84,436.93 L213.95,434.17 L215.05,431.32 L216.16,428.38 L217.26,425.35 L218.37,422.24 L219.47,419.07 L220.58,415.84 L221.68,412.57 L222.79,409.26 L223.89,405.94 L225,402.61 L226.1,399.29 L227.21,396 L228.32,392.75 L229.42,389.55 L230.53,386.43 L231.63,383.41 L232.74,380.49 L233.84,377.69 L234.95,375.04 L236.05,372.54 L237.16,370.22 L238.26,368.08 L239.37,366.14 L240.47,364.41 L241.58,362.91 L242.68,361.64 L243.79,360.61 L244.89,359.83 L246,359.3 L247.1,359.02 L248.21,359.01 L249.31,359.25 L250.42,359.76 L251.52,360.51 L252.63,361.51 L253.73,362.76 L254.84,364.23 L255.95,365.94 L257.05,367.85 L258.16,369.97 L259.26,372.27 L260.37,374.75 L261.47,377.39 L262.58,380.17 L263.68,383.08 L264.79,386.09 L265.89,389.2 L267,392.39 L268.1,395.63 L269.21,398.92 L270.31,402.24 L271.42,405.57 L272.52,408.9 L273.63,412.2 L274.73,415.48 L275.84,418.71 L276.94,421.89 L278.05,425.01 L279.15,428.04 L280.26,431 L281.36,433.86 L282.47,436.63 L283.58,439.29 L284.68,441.84 L285.79,444.29 L286.89,446.62 L288,448.83 L289.1,450.93 L290.21,452.92 L291.31,454.79 L292.42,456.55 L293.52,458.19 L294.63,459.73 L295.73,461.17 L296.84,462.5 L297.94,463.73 L299.05,464.87 L300.15,465.93 L301.26,466.89 L302.36,467.78 L303.47,468.59 L304.57,469.33 L305.68,470 L306.78,470.61 L307.89,471.16 L308.99,471.66 L310.1,472.11 L311.21,472.51 L312.31,472.87 L313.42,473.19 L314.52,473.48 L315.63,473.74 L316.73,473.96 L317.84,474.16 L318.94,474.34 L320.05,474.5 L321.15,474.63 L322.26,474.75 L323.36,474.86 L324.47,474.95 L325.57,475.03 L326.68,475.1 L327.78,475.16 L328.89,475.21 L329.99,475.25 L331.1,475.29 L332.2,475.32 L333.31,475.35 L334.41,475.37 L335.52,475.39 L336.62,475.41 L337.73,475.43 L338.84,475.44 L339.94,475.45 L341.05,475.46 L342.15,475.46 L343.26,475.47 L344.36,475.48 L345.47,475.48 L346.57,475.48 L347.68,475.49 L348.78,475.49 L349.89,475.49 L350.99,475.49 L352.1,475.49 L353.2,475.5 L354.31,475.5 L355.41,475.5 L356.52,475.5 L357.62,475.5 L358.73,475.5 L359.83,475.5 L360.94,475.5 L362.04,475.5 L363.15,475.5 L364.25,475.5 L365.36,475.5" stroke="#FF0000" stroke-width="2" fill="none"/>
<path d="M33.8,475.5 L34.91,475.5 L36.01,475.5 L37.12,475.5 L38.22,475.5 L39.33,475.5 L40.43,475.5 L41.54,475.5 L42.64,475.5 L43.75,475.5 L44.85,475.5 L45.96,475.5 L47.06,475.5 L48.17,475.5 L49.27,475.5 L50.38,475.5 L51.48,475.5 L52.59,475.5 L53.69,475.5 L54.8,475.5 L55.9,475.5 L57.01,475.5 L58.11,475.5 L59.22,475.5 L60.32,475.5 L61.43,475.5 L62.54,475.5 L63.64,475.5 L64.75,475.5 L65.85,475.5 L66.96,475.5 L68.06,475.5 L69.17,475.5 L70.27,475.5 L71.38,475.5 L72.48,475.5 L73.59,475.5 L74.69,475.5 L75.8,475.5 L76.9,475.5 L78.01,475.5 L79.11,475.5 L80.22,475.5 L81.32,475.5 L82.43,475.5 L83.53,475.5 L84.64,475.5 L85.74,475.5 L86.85,475.5 L87.95,475.5 L89.06,475.5 L90.17,475.5 L91.27,475.5 L92.38,475.5 L93.48,475.5 L94.59,475.5 L95.69,475.5 L96.8,475.5 L97.9,475.5 L99.01,475.5 L100.11,475.5 L101.22,475.5 L102.32,475.5 L103.43,475.5 L104.53,475.5 L105.64,475.5 L106.74,475.5 L107.85,475.5 L108.95,475.5 L110.06,475.5 L111.16,475.5 L112.27,475.5 L113.37,475.5 L114.48,475.5 L115.58,475.5 L116.69,475.5 L117.8,475.5 L118.9,475.5 L120.01,475.5 L121.11,475.5 L122.22,475.5 L123.32,475.5 L124.43,475.5 L125.53,475.5 L126.64,475.5 L127.74,475.5 L128.85,475.5 L129.95,475.5 L131.06,475.5 L132.16,475.5 L133.27,475.5 L134.37,475.49 L135.48,475.49 L136.58,475.49 L137.69,475.49 L138.79,475.49 L139.9,475.48 L141,475.48 L142.11,475.48 L143.21,475.47 L144.32,475.47 L145.43,475.46 L146.53,475.45 L147.64,475.45 L148.74,475.44 L149.85,475.42 L150.95,475.41 L152.06,475.39 L153.16,475.37 L154.27,475.35 L155.37,475.33 L156.48,475.3 L157.58,475.26 L158.69,475.22 L159.79,475.18 L160.9,475.12 L162,475.06 L163.11,474.99 L164.21,474.91 L165.32,474.82 L166.42,474.72 L167.53,474.6 L168.63,474.47 L169.74,474.32 L170.84,474.15 L171.95,473.96 L173.06,473.75 L174.16,473.51 L175.27,473.24 L176.37,472.95 L177.48,472.62 L178.58,472.25 L179.69,471.84 L180.79,471.39 L181.9,470.89 L183,470.35 L184.11,469.75 L185.21,469.09 L186.32,468.37 L187.42,467.59 L188.53,466.73 L189.63,465.81 L190.74,464.81 L191.84,463.72 L192.95,462.56 L194.05,461.3 L195.16,459.96 L196.26,458.52 L197.37,456.98 L198.47,455.35 L199.58,453.61 L200.69,451.77 L201.79,449.83 L202.9,447.78 L204,445.62 L205.11,443.37 L206.21,441.01 L207.32,438.55 L208.42,435.99 L209.53,433.34 L210.63,430.59 L211.74,427.77 L212.84,424.86 L213.95,421.89 L215.05,418.85 L216.16,415.75 L217.26,412.61 L218.37,409.44 L219.47,406.24 L220.58,403.03 L221.68,399.82 L222.79,396.62 L223.89,393.45 L225,390.32 L226.1,387.24 L227.21,384.23 L228.32,381.3 L229.42,378.47 L230.53,375.76 L231.63,373.16 L232.74,370.71 L233.84,368.41 L234.95,366.27 L236.05,364.31 L237.16,362.53 L238.26,360.96 L239.37,359.58 L240.47,358.43 L241.58,357.49 L242.68,356.78 L243.79,356.3 L244.89,356.05 L246,356.04 L247.1,356.26 L248.21,356.71 L249.31,357.4 L250.42,358.31 L251.52,359.44 L252.63,360.79 L253.73,362.35 L254.84,364.1 L255.95,366.04 L257.05,368.16 L258.16,370.45 L259.26,372.88 L260.37,375.46 L261.47,378.17 L262.58,380.98 L263.68,383.9 L264.79,386.9 L265.89,389.97 L267,393.1 L268.1,396.26 L269.21,399.46 L270.31,402.67 L271.42,405.88 L272.52,409.08 L273.63,412.26 L274.73,415.41 L275.84,418.5 L276.94,421.55 L278.05,424.53 L279.15,427.45 L280.26,430.28 L281.36,433.04 L282.47,435.7 L283.58,438.27 L284.68,440.74 L285.79,443.11 L286.89,445.38 L288,447.54 L289.1,449.6 L290.21,451.56 L291.31,453.41 L292.42,455.16 L293.52,456.81 L294.63,458.35 L295.73,459.8 L296.84,461.16 L297.94,462.42 L299.05,463.6 L300.15,464.69 L301.26,465.7 L302.36,466.63 L303.47,467.49 L304.57,468.29 L305.68,469.01 L306.78,469.68 L307.89,470.28 L308.99,470.83 L310.1,471.34 L311.21,471.79 L312.31,472.2 L313.42,472.58 L314.52,472.91 L315.63,473.21 L316.73,473.48 L317.84,473.72 L318.94,473.94 L320.05,474.13 L321.15,474.3 L322.26,474.46 L323.36,474.59 L324.47,474.71 L325.57,474.81 L326.68,474.9 L327.78,474.98 L328.89,475.06 L329.99,475.12 L331.1,475.17 L332.2,475.22 L333.31,475.26 L334.41,475.29 L335.52,475.32 L336.62,475.35 L337.73,475.37 L338.84,475.39 L339.94,475.41 L341.05,475.42 L342.15,475.43 L343.26,475.45 L344.36,475.45 L345.47,475.46 L346.57,475.47 L347.68,475.47 L348.78,475.48 L349.89,475.48 L350.99,475.48 L352.1,475.49 L353.2,475.49 L354.31,475.49 L355.41,475.49 L356.52,475.49 L357.62,475.5 L358.73,475.5 L359.83,475.5 L360.94,475.5 L362.04,475.5 L363.15,475.5 L364.25,475.5 L365.36,475.5" stroke="#FF0000" stroke-width="2" fill="none" stroke-dasharray="5 5"/>
<path d="M33.8,475.5 L34.91,475.5 L36.01,475.5 L37.12,475.5 L38.22,475.5 L39.33,475.5 L40.43,475.5 L41.54,475.5 L42.64,475.5 L43.75,475.5 L44.85,475.5 L45.96,475.5 L47.06,475.5 L48.17,475.5 L49.27,475.5 L50.38,475.5 L51.48,475.5 L52.59,475.5 L53.69,475.5 L54.8,475.5 L55.9,475.5 L57.01,475.5 L58.11,475.5 L59.22,475.5 L60.32,475.5 L61.43,475.5 L62.54,475.5 L63.64,475.5 L64.75,475.5 L65.85,475.5 L66.96,475.5 L68.06,475.5 L69.17,475.5 L70.27,475.5 L71.38,475.5 L72.48,475.5 L73.59,475.49 L74.69,475.49 L75.8,475.49 L76.9,475.49 L78.01,475.49 L79.11,475.48 L80.22,475.48 L81.32,475.47 L82.43,475.47 L83.53,475.46 L84.64,475.45 L85.74,475.44 L86.85,475.42 L87.95,475.4 L89.06,475.38 L90.17,475.36 L91.27,475.33 L92.38,475.29 L93.48,475.25 L94.59,475.2 L95.69,475.14 L96.8,475.06 L97.9,474.98 L99.01,474.88 L100.11,474.77 L101.22,474.64 L102.32,474.49 L103.43,474.31 L104.53,474.12 L105.64,473.89 L106.74,473.63 L107.85,473.34 L108.95,473.01 L110.06,472.63 L111.16,472.22 L112.27,471.75 L113.37,471.24 L114.48,470.67 L115.58,470.04 L116.69,469.34 L117.8,468.59 L118.9,467.76 L120.01,466.87 L121.11,465.9 L122.22,464.87 L123.32,463.75 L124.43,462.57 L125.53,461.31 L126.64,459.98 L127.74,458.58 L128.85,457.11 L129.95,455.58 L131.06,454 L132.16,452.37 L133.27,450.69 L134.37,448.98 L135.48,447.25 L136.58,445.5 L137.69,443.75 L138.79,442 L139.9,440.28 L141,438.58 L142.11,436.94 L143.21,435.35 L144.32,433.83 L145.43,432.4 L146.53,431.07 L147.64,429.84 L148.74,428.74 L149.85,427.76 L150.95,426.93 L152.06,426.24 L153.16,425.71 L154.27,425.33 L155.37,425.12 L156.48,425.08 L157.58,425.2 L158.69,425.48 L159.79,425.92 L160.9,426.53 L162,427.28 L163.11,428.18 L164.21,429.21 L165.32,430.37 L166.42,431.65 L167.53,433.03 L168.63,434.5 L169.74,436.05 L170.84,437.66 L171.95,439.33 L173.06,441.04 L174.16,442.77 L175.27,444.52 L176.37,446.28 L177.48,448.02 L178.58,449.74 L179.69,451.44 L180.79,453.1 L181.9,454.71 L183,456.27 L184.11,457.77 L185.21,459.21 L186.32,460.58 L187.42,461.88 L188.53,463.1 L189.63,464.26 L190.74,465.34 L191.84,466.34 L192.95,467.28 L194.05,468.14 L195.16,468.93 L196.26,469.66 L197.37,470.32 L198.47,470.93 L199.58,471.47 L200.69,471.97 L201.79,472.41 L202.9,472.8 L204,473.16 L205.11,473.47 L206.21,473.75 L207.32,473.99 L208.42,474.21 L209.53,474.4 L210.63,474.56 L211.74,474.7 L212.84,474.82 L213.95,474.93 L215.05,475.02 L216.16,475.1 L217.26,475.16 L218.37,475.22 L219.47,475.27 L220.58,475.31 L221.68,475.34 L222.79,475.37 L223.89,475.39 L225,475.41 L226.1,475.43 L227.21,475.44 L228.32,475.45 L229.42,475.46 L230.53,475.47 L231.63,475.48 L232.74,475.48 L233.84,475.48 L234.95,475.49 L236.05,475.49 L237.16,475.49 L238.26,475.49 L239.37,475.5 L240.47,475.5 L241.58,475.5 L242.68,475.5 L243.79,475.5 L244.89,475.5 L246,475.5 L247.1,475.5 L248.21,475.5 L249.31,475.5 L250.42,475.5 L251.52,475.5 L252.63,475.5 L253.73,475.5 L254.84,475.5 L255.95,475.5 L257.05,475.5 L258.16,475.5 L259.26,475.5 L260.37,475.5 L261.47,475.5 L262.58,475.5 L263.68,475.5 L264.79,475.5 L265.89,475.5 L267,475.5 L268.1,475.5 L269.21,475.5 L270.31,475.5 L271.42,475.5 L272.52,475.5 L273.63,475.5 L274.73,475.5 L275.84,475.5 L276.94,475.5 L278.05,475.5 L279.15,475.5 L280.26,475.5 L281.36,475.5 L282.47,475.5 L283.58,475.5 L284.68,475.5 L285.79,475.5 L286.89,475.5 L288,475.5 L289.1,475.5 L290.21,475.5 L291.31,475.5 L292.42,475.5 L293.52,475.5 L294.63,475.5 L295.73,475.5 L296.84,475.5 L297.94,475.5 L299.05,475.5 L300.15,475.5 L301.26,475.5 L302.36,475.5 L303.47,475.5 L304.57,475.5 L305.68,475.5 L306.78,475.5 L307.89,475.5 L308.99,475.5 L310.1,475.5 L311.21,475.5 L312.31,475.5 L313.42,475.5 L314.52,475.5 L315.63,475.5 L316.73,475.5 L317.84,475.5 L318.94,475.5 L320.05,475.5 L321.15,475.5 L322.26,475.5 L323.36,475.5 L324.47,475.5 L325.57,475.5 L326.68,475.5 L327.78,475.5 L328.89,475.5 L329.99,475.5 L331.1,475.5 L332.2,475.5 L333.31,475.5 L334.41,475.5 L335.52,475.5 L336.62,475.5 L337.73,475.5 L338.84,475.5 L339.94,475.5 L341.05,475.5 L342.15,475.5 L343.26,475.5 L344.36,475.5 L345.47,475.5 L346.57,475.5 L347.68,475.5 L348.78,475.5 L349.89,475.5 L350.99,475.5 L352.1,475.5 L353.2,475.5 L354.31,475.5 L355.41,475.5 L356.52,475.5 L357.62,475.5 L358.73,475.5 L359.83,475.5 L360.94,475.5 L362.04,475.5 L363.15,475.5 L364.25,475.5 L365.36,475.5" stroke="#0000FF" stroke-width="2" fill="none" stroke-dasharray="5 5"/>
<path d="M33.8,475.5 L34.91,475.5 L36.01,475.49 L37.12,475.49 L38.22,475.49 L39.33,475.49 L40.43,475.49 L41.54,475.49 L42.64,475.49 L43.75,475.49 L44.85,475.48 L45.96,475.48 L47.06,475.48 L48.17,475.47 L49.27,475.47 L50.38,475.47 L51.48,475.46 L52.59,475.46 L53.69,475.45 L54.8,475.44 L55.9,475.43 L57.01,475.42 L58.11,475.41 L59.22,475.4 L60.32,475.39 L61.43,475.37 L62.54,475.36 L63.64,475.34 L64.75,475.32 L65.85,475.3 L66.96,475.27 L68.06,475.24 L69.17,475.21 L70.27,475.18 L71.38,475.14 L72.48,475.1 L73.59,475.05 L74.69,475 L75.8,474.94 L76.9,474.88 L78.01,474.81 L79.11,474.73 L80.22,474.65 L81.32,474.56 L82.43,474.46 L83.53,474.36 L84.64,474.24 L85.74,474.12 L86.85,473.98 L87.95,473.83 L89.06,473.67 L90.17,473.5 L91.27,473.31 L92.38,473.11 L93.48,472.9 L94.59,472.67 L95.69,472.42 L96.8,472.16 L97.9,471.88 L99.01,471.58 L100.11,471.26 L101.22,470.92 L102.32,470.56 L103.43,470.18 L104.53,469.78 L105.64,469.35 L106.74,468.91 L107.85,468.44 L108.95,467.94 L110.06,467.42 L111.16,466.88 L112.27,466.31 L113.37,465.72 L114.48,465.1 L115.58,464.46 L116.69,463.8 L117.8,463.11 L118.9,462.4 L120.01,461.67 L121.11,460.91 L122.22,460.13 L123.32,459.34 L124.43,458.52 L125.53,457.69 L126.64,456.84 L127.74,455.97 L128.85,455.1 L129.95,454.21 L131.06,453.31 L132.16,452.4 L133.27,451.49 L134.37,450.58 L135.48,449.66 L136.58,448.75 L137.69,447.84 L138.79,446.93 L139.9,446.04 L141,445.16 L142.11,444.29 L143.21,443.44 L144.32,442.61 L145.43,441.81 L146.53,441.03 L147.64,440.28 L148.74,439.55 L149.85,438.87 L150.95,438.21 L152.06,437.6 L153.16,437.03 L154.27,436.5 L155.37,436.01 L156.48,435.57 L157.58,435.18 L158.69,434.84 L159.79,434.55 L160.9,434.32 L162,434.13 L163.11,434 L164.21,433.93 L165.32,433.9 L166.42,433.94 L167.53,434.03 L168.63,434.17 L169.74,434.36 L170.84,434.61 L171.95,434.92 L173.06,435.27 L174.16,435.67 L175.27,436.12 L176.37,436.61 L177.48,437.15 L178.58,437.73 L179.69,438.36 L180.79,439.02 L181.9,439.71 L183,440.44 L184.11,441.2 L185.21,441.98 L186.32,442.8 L187.42,443.63 L188.53,444.48 L189.63,445.35 L190.74,446.24 L191.84,447.13 L192.95,448.04 L194.05,448.95 L195.16,449.86 L196.26,450.78 L197.37,451.69 L198.47,452.6 L199.58,453.51 L200.69,454.41 L201.79,455.29 L202.9,456.17 L204,457.03 L205.11,457.88 L206.21,458.7 L207.32,459.52 L208.42,460.31 L209.53,461.08 L210.63,461.83 L211.74,462.56 L212.84,463.27 L213.95,463.95 L215.05,464.61 L216.16,465.24 L217.26,465.85 L218.37,466.44 L219.47,467 L220.58,467.54 L221.68,468.05 L222.79,468.54 L223.89,469.01 L225,469.45 L226.1,469.87 L227.21,470.27 L228.32,470.64 L229.42,471 L230.53,471.33 L231.63,471.65 L232.74,471.94 L233.84,472.22 L234.95,472.48 L236.05,472.72 L237.16,472.95 L238.26,473.16 L239.37,473.36 L240.47,473.54 L241.58,473.71 L242.68,473.87 L243.79,474.01 L244.89,474.14 L246,474.27 L247.1,474.38 L248.21,474.49 L249.31,474.58 L250.42,474.67 L251.52,474.75 L252.63,474.83 L253.73,474.89 L254.84,474.95 L255.95,475.01 L257.05,475.06 L258.16,475.11 L259.26,475.15 L260.37,475.18 L261.47,475.22 L262.58,475.25 L263.68,475.28 L264.79,475.3 L265.89,475.32 L267,475.34 L268.1,475.36 L269.21,475.38 L270.31,475.39 L271.42,475.41 L272.52,475.42 L273.63,475.43 L274.73,475.44 L275.84,475.44 L276.94,475.45 L278.05,475.46 L279.15,475.46 L280.26,475.47 L281.36,475.47 L282.47,475.47 L283.58,475.48 L284.68,475.48 L285.79,475.48 L286.89,475.49 L288,475.49 L289.1,475.49 L290.21,475.49 L291.31,475.49 L292.42,475.49 L293.52,475.49 L294.63,475.5 L295.73,475.5 L296.84,475.5 L297.94,475.5 L299.05,475.5 L300.15,475.5 L301.26,475.5 L302.36,475.5 L303.47,475.5 L304.57,475.5 L305.68,475.5 L306.78,475.5 L307.89,475.5 L308.99,475.5 L310.1,475.5 L311.21,475.5 L312.31,475.5 L313.42,475.5 L314.52,475.5 L315.63,475.5 L316.73,475.5 L317.84,475.5 L318.94,475.5 L320.05,475.5 L321.15,475.5 L322.26,475.5 L323.36,475.5 L324.47,475.5 L325.57,475.5 L326.68,475.5 L327.78,475.5 L328.89,475.5 L329.99,475.5 L331.1,475.5 L332.2,475.5 L333.31,475.5 L334.41,475.5 L335.52,475.5 L336.62,475.5 L337.73,475.5 L338.84,475.5 L339.94,475.5 L341.05,475.5 L342.15,475.5 L343.26,475.5 L344.36,475.5 L345.47,475.5 L346.57,475.5 L347.68,475.5 L348.78,475.5 L349.89,475.5 L350.99,475.5 L352.1,475.5 L353.2,475.5 L354.31,475.5 L355.41,475.5 L356.52,475.5 L357.62,475.5 L358.73,475.5 L359.83,475.5 L360.94,475.5 L362.04,475.5 L363.15,475.5 L364.25,475.5 L365.36,475.5" stroke="#0000FF" stroke-width="2" fill="none"/>
<rect x="33.8" y="474.4" width="332.56" height="1.6" fill="#fff" fill-opacity="0.33"/>
</g>
<path d="M40.4,350.79H58.1" stroke="#FF0000" stroke-width="2"/>
<path d="M40.6,362.99H56.6" stroke="#FF0000" stroke-width="2" stroke-dasharray="5.2 4.8"/>
<rect x="40.8" y="372.19" width="17" height="6.2" fill="rgba(186,186,190,0.6)" stroke="rgba(165,165,172,0.5)" stroke-width="0.5"/>
<text x="64.4" y="353.69" font-size="8.8" text-anchor="start" fill="#262626" font-family='"Liberation Sans", sans-serif' textLength="67.4" lengthAdjust="spacingAndGlyphs">astroML XDGMM</text>
<text x="64.9" y="365.94" font-size="8.8" text-anchor="start" fill="#262626" font-family='"Liberation Sans", sans-serif' textLength="95.22" lengthAdjust="spacingAndGlyphs">extreme-deconvolution</text>
<text x="64.4" y="378.19" font-size="8.8" text-anchor="start" fill="#262626" font-family='"Liberation Sans", sans-serif' textLength="120.8" lengthAdjust="spacingAndGlyphs">93 more samples from model</text>
<text x="186.5" y="352.49" font-size="9" text-anchor="start" fill="#262626" font-family='"Liberation Sans", sans-serif' textLength="148.5" lengthAdjust="spacingAndGlyphs">Models &amp; samples convolved with</text>
<text y="352.39" font-size="10" fill="#262626" font-family='"Liberation Serif", serif'><tspan x="338.0" font-style="italic">N</tspan><tspan x="345.4">(</tspan><tspan x="348.2" font-style="italic">&#963;</tspan><tspan x="356.6" textLength="6.4" lengthAdjust="spacingAndGlyphs">=</tspan><tspan x="365.6" textLength="23.2" lengthAdjust="spacingAndGlyphs">0.040</tspan><tspan x="390.0">)</tspan></text>
<text x="27.4" y="478.2" font-size="8.6" text-anchor="end" fill="#262626" font-family='"Liberation Sans", sans-serif' textLength="12.09" lengthAdjust="spacingAndGlyphs">0.0</text>
<text x="27.4" y="462.14" font-size="8.6" text-anchor="end" fill="#262626" font-family='"Liberation Sans", sans-serif' textLength="12.09" lengthAdjust="spacingAndGlyphs">0.2</text>
<text x="27.4" y="446.08" font-size="8.6" text-anchor="end" fill="#262626" font-family='"Liberation Sans", sans-serif' textLength="12.09" lengthAdjust="spacingAndGlyphs">0.4</text>
<text x="27.4" y="430.02" font-size="8.6" text-anchor="end" fill="#262626" font-family='"Liberation Sans", sans-serif' textLength="12.09" lengthAdjust="spacingAndGlyphs">0.6</text>
<text x="27.4" y="413.96" font-size="8.6" text-anchor="end" fill="#262626" font-family='"Liberation Sans", sans-serif' textLength="12.09" lengthAdjust="spacingAndGlyphs">0.8</text>
<text x="27.4" y="397.9" font-size="8.6" text-anchor="end" fill="#262626" font-family='"Liberation Sans", sans-serif' textLength="12.09" lengthAdjust="spacingAndGlyphs">1.0</text>
<text x="27.4" y="381.84" font-size="8.6" text-anchor="end" fill="#262626" font-family='"Liberation Sans", sans-serif' textLength="12.09" lengthAdjust="spacingAndGlyphs">1.2</text>
<text x="27.4" y="365.78" font-size="8.6" text-anchor="end" fill="#262626" font-family='"Liberation Sans", sans-serif' textLength="12.09" lengthAdjust="spacingAndGlyphs">1.4</text>
<text x="27.4" y="349.72" font-size="8.6" text-anchor="end" fill="#262626" font-family='"Liberation Sans", sans-serif' textLength="12.09" lengthAdjust="spacingAndGlyphs">1.6</text>
<text x="33.8" y="487.4" font-size="8.6" text-anchor="middle" fill="#262626" font-family='"Liberation Sans", sans-serif' textLength="18.45" lengthAdjust="spacingAndGlyphs">−1.5</text>
<text x="95.2" y="487.4" font-size="8.6" text-anchor="middle" fill="#262626" font-family='"Liberation Sans", sans-serif' textLength="18.45" lengthAdjust="spacingAndGlyphs">−1.0</text>
<text x="156.6" y="487.4" font-size="8.6" text-anchor="middle" fill="#262626" font-family='"Liberation Sans", sans-serif' textLength="18.45" lengthAdjust="spacingAndGlyphs">−0.5</text>
<text x="218" y="487.4" font-size="8.6" text-anchor="middle" fill="#262626" font-family='"Liberation Sans", sans-serif' textLength="12.09" lengthAdjust="spacingAndGlyphs">0.0</text>
<text x="279.4" y="487.4" font-size="8.6" text-anchor="middle" fill="#262626" font-family='"Liberation Sans", sans-serif' textLength="12.09" lengthAdjust="spacingAndGlyphs">0.5</text>
<text x="340.8" y="487.4" font-size="8.6" text-anchor="middle" fill="#262626" font-family='"Liberation Sans", sans-serif' textLength="12.09" lengthAdjust="spacingAndGlyphs">1.0</text>
<text x="402.2" y="487.4" font-size="8.6" text-anchor="middle" fill="#262626" font-family='"Liberation Sans", sans-serif' textLength="12.09" lengthAdjust="spacingAndGlyphs">1.5</text>
<text x="218.3" y="499.5" font-size="8.6" text-anchor="middle" fill="#262626" font-family='"Liberation Sans", sans-serif' textLength="21" lengthAdjust="spacingAndGlyphs">[M/H]</text>
<text x="0" y="0" font-size="8.6" text-anchor="middle" fill="#262626" font-family='"Liberation Sans", sans-serif' textLength="29.4" lengthAdjust="spacingAndGlyphs" transform="translate(9.0,407.75) rotate(-90)">f([M/H])</text>
<text x="218.2" y="8.9" font-size="11" text-anchor="middle" fill="#262626" font-family='"Liberation Sans", sans-serif' textLength="62.8" lengthAdjust="spacingAndGlyphs">lnL = 29.574</text>
<clipPath id="cc"><rect x="476.1" y="13.8" width="276.2" height="210.4"/></clipPath>
<rect x="476.1" y="13.8" width="276.2" height="210.4" fill="#EAEAF2"/>
<path d="M476.1,13.8V224.2M510.62,13.8V224.2M545.15,13.8V224.2M579.68,13.8V224.2M614.2,13.8V224.2M648.72,13.8V224.2M683.25,13.8V224.2M717.77,13.8V224.2M752.3,13.8V224.2M476.1,13.8H752.3M476.1,43.86H752.3M476.1,73.91H752.3M476.1,103.97H752.3M476.1,134.03H752.3M476.1,164.09H752.3M476.1,194.14H752.3M476.1,224.2H752.3" stroke="#FAFAFC" stroke-width="1.4" fill="none"/>
<g clip-path="url(#cc)">
<circle cx="525.5" cy="29.4" r="1.15" fill="#1a1a1a"/>
<circle cx="523.2" cy="41.1" r="1.15" fill="#1a1a1a"/>
<circle cx="500.6" cy="45.3" r="1.15" fill="#1a1a1a"/>
<circle cx="509" cy="54.3" r="1.15" fill="#1a1a1a"/>
<circle cx="503.1" cy="58.5" r="1.15" fill="#1a1a1a"/>
<circle cx="509.8" cy="61" r="1.15" fill="#1a1a1a"/>
<circle cx="514.8" cy="61.8" r="1.15" fill="#1a1a1a"/>
<circle cx="519.6" cy="63.5" r="1.15" fill="#1a1a1a"/>
<circle cx="507.3" cy="71.6" r="1.15" fill="#1a1a1a"/>
<circle cx="523.8" cy="80" r="1.15" fill="#1a1a1a"/>
<circle cx="553.7" cy="78.3" r="1.15" fill="#1a1a1a"/>
<circle cx="533" cy="89" r="1.15" fill="#1a1a1a"/>
<circle cx="528.6" cy="102.3" r="1.15" fill="#1a1a1a"/>
<circle cx="562.6" cy="99" r="1.15" fill="#1a1a1a"/>
<circle cx="540.3" cy="111.3" r="1.15" fill="#1a1a1a"/>
<circle cx="551.8" cy="112.1" r="1.15" fill="#1a1a1a"/>
<circle cx="539.7" cy="118.4" r="1.15" fill="#1a1a1a"/>
<circle cx="547.6" cy="118.4" r="1.15" fill="#1a1a1a"/>
<circle cx="551.2" cy="125.4" r="1.15" fill="#1a1a1a"/>
<circle cx="555.8" cy="124" r="1.15" fill="#1a1a1a"/>
<circle cx="559.4" cy="128.6" r="1.15" fill="#1a1a1a"/>
<circle cx="568.9" cy="129.7" r="1.15" fill="#1a1a1a"/>
<circle cx="575.7" cy="123.1" r="1.15" fill="#1a1a1a"/>
<circle cx="565.9" cy="135.6" r="1.15" fill="#1a1a1a"/>
<circle cx="567" cy="134.4" r="1.15" fill="#1a1a1a"/>
<circle cx="575.7" cy="137.9" r="1.15" fill="#1a1a1a"/>
<circle cx="649.4" cy="150.3" r="1.15" fill="#1a1a1a"/>
<circle cx="619.5" cy="162.8" r="1.15" fill="#1a1a1a"/>
<rect x="605.15" y="38.15" width="3.5" height="3.5" fill="#007F00"/>
<rect x="601.85" y="53.55" width="3.5" height="3.5" fill="#007F00"/>
<rect x="603.65" y="58.55" width="3.5" height="3.5" fill="#007F00"/>
<rect x="599.75" y="62.35" width="3.5" height="3.5" fill="#007F00"/>
<rect x="599.05" y="64.45" width="3.5" height="3.5" fill="#007F00"/>
<rect x="605.15" y="63.35" width="3.5" height="3.5" fill="#007F00"/>
<rect x="608.95" y="62.75" width="3.5" height="3.5" fill="#007F00"/>
<rect x="612.05" y="68.25" width="3.5" height="3.5" fill="#007F00"/>
<rect x="566.95" y="64.45" width="3.5" height="3.5" fill="#007F00"/>
<rect x="568.85" y="66.95" width="3.5" height="3.5" fill="#007F00"/>
<rect x="574.65" y="69.25" width="3.5" height="3.5" fill="#007F00"/>
<rect x="595.95" y="78.65" width="3.5" height="3.5" fill="#007F00"/>
<rect x="597.65" y="85.95" width="3.5" height="3.5" fill="#007F00"/>
<rect x="608.45" y="89.25" width="3.5" height="3.5" fill="#007F00"/>
<rect x="594.25" y="95.15" width="3.5" height="3.5" fill="#007F00"/>
<rect x="588.45" y="102.45" width="3.5" height="3.5" fill="#007F00"/>
<rect x="600.95" y="102.45" width="3.5" height="3.5" fill="#007F00"/>
<rect x="603.45" y="101.65" width="3.5" height="3.5" fill="#007F00"/>
<rect x="597.65" y="107.65" width="3.5" height="3.5" fill="#007F00"/>
<rect x="606.65" y="109.95" width="3.5" height="3.5" fill="#007F00"/>
<rect x="634.15" y="28.15" width="3.5" height="3.5" fill="#007F00"/>
<rect x="653.55" y="35.65" width="3.5" height="3.5" fill="#007F00"/>
<rect x="614.15" y="41.25" width="3.5" height="3.5" fill="#007F00"/>
<rect x="681.15" y="39.55" width="3.5" height="3.5" fill="#007F00"/>
<rect x="705.95" y="42.15" width="3.5" height="3.5" fill="#007F00"/>
<rect x="721.85" y="42.95" width="3.5" height="3.5" fill="#007F00"/>
<rect x="614.15" y="54.65" width="3.5" height="3.5" fill="#007F00"/>
<rect x="625.55" y="56.35" width="3.5" height="3.5" fill="#007F00"/>
<rect x="638.95" y="56.35" width="3.5" height="3.5" fill="#007F00"/>
<rect x="615.75" y="64.45" width="3.5" height="3.5" fill="#007F00"/>
<rect x="625.55" y="63.65" width="3.5" height="3.5" fill="#007F00"/>
<rect x="613.25" y="67.75" width="3.5" height="3.5" fill="#007F00"/>
<rect x="618.55" y="69.45" width="3.5" height="3.5" fill="#007F00"/>
<rect x="619.95" y="71.35" width="3.5" height="3.5" fill="#007F00"/>
<rect x="645.65" y="71.35" width="3.5" height="3.5" fill="#007F00"/>
<rect x="681.15" y="67.75" width="3.5" height="3.5" fill="#007F00"/>
<rect x="614.15" y="88.45" width="3.5" height="3.5" fill="#007F00"/>
<rect x="613.25" y="109.95" width="3.5" height="3.5" fill="#007F00"/>
<rect x="598.85" y="122.25" width="3.5" height="3.5" fill="#007F00"/>
<rect x="601.85" y="124.75" width="3.5" height="3.5" fill="#007F00"/>
<rect x="588.25" y="133.85" width="3.5" height="3.5" fill="#007F00"/>
<rect x="591.25" y="133.85" width="3.5" height="3.5" fill="#007F00"/>
<rect x="604.35" y="142.15" width="3.5" height="3.5" fill="#007F00"/>
<rect x="596.95" y="143.85" width="3.5" height="3.5" fill="#007F00"/>
<rect x="596.25" y="147.95" width="3.5" height="3.5" fill="#007F00"/>
<rect x="592.85" y="150.55" width="3.5" height="3.5" fill="#007F00"/>
<rect x="595.15" y="151.45" width="3.5" height="3.5" fill="#007F00"/>
<rect x="577.95" y="150.55" width="3.5" height="3.5" fill="#007F00"/>
<rect x="582.75" y="152.15" width="3.5" height="3.5" fill="#007F00"/>
<rect x="568.85" y="147.95" width="3.5" height="3.5" fill="#007F00"/>
<rect x="571.95" y="149.35" width="3.5" height="3.5" fill="#007F00"/>
<rect x="571.25" y="152.15" width="3.5" height="3.5" fill="#007F00"/>
<rect x="560.55" y="152.15" width="3.5" height="3.5" fill="#007F00"/>
<rect x="563.55" y="151.75" width="3.5" height="3.5" fill="#007F00"/>
<rect x="562.15" y="153.25" width="3.5" height="3.5" fill="#007F00"/>
<rect x="565.65" y="156.35" width="3.5" height="3.5" fill="#007F00"/>
<rect x="570.55" y="157.05" width="3.5" height="3.5" fill="#007F00"/>
<rect x="562.15" y="159.15" width="3.5" height="3.5" fill="#007F00"/>
<rect x="564.95" y="159.85" width="3.5" height="3.5" fill="#007F00"/>
<rect x="569.15" y="160.55" width="3.5" height="3.5" fill="#007F00"/>
<rect x="572.65" y="162.25" width="3.5" height="3.5" fill="#007F00"/>
<rect x="560.55" y="163.05" width="3.5" height="3.5" fill="#007F00"/>
<rect x="553.15" y="162.25" width="3.5" height="3.5" fill="#007F00"/>
<rect x="554.55" y="164.05" width="3.5" height="3.5" fill="#007F00"/>
<rect x="566.35" y="164.75" width="3.5" height="3.5" fill="#007F00"/>
<rect x="567.05" y="167.45" width="3.5" height="3.5" fill="#007F00"/>
<rect x="573.05" y="167.75" width="3.5" height="3.5" fill="#007F00"/>
<rect x="568.45" y="170.55" width="3.5" height="3.5" fill="#007F00"/>
<rect x="562.85" y="172.75" width="3.5" height="3.5" fill="#007F00"/>
<rect x="563.55" y="178.65" width="3.5" height="3.5" fill="#007F00"/>
<rect x="559.35" y="180.75" width="3.5" height="3.5" fill="#007F00"/>
<rect x="560.05" y="182.85" width="3.5" height="3.5" fill="#007F00"/>
<rect x="560.55" y="185.65" width="3.5" height="3.5" fill="#007F00"/>
<rect x="572.65" y="177.95" width="3.5" height="3.5" fill="#007F00"/>
<rect x="574.05" y="180.05" width="3.5" height="3.5" fill="#007F00"/>
<rect x="574.75" y="182.15" width="3.5" height="3.5" fill="#007F00"/>
<rect x="577.45" y="185.65" width="3.5" height="3.5" fill="#007F00"/>
<rect x="575.45" y="188.15" width="3.5" height="3.5" fill="#007F00"/>
<rect x="576.85" y="190.45" width="3.5" height="3.5" fill="#007F00"/>
<rect x="578.15" y="191.85" width="3.5" height="3.5" fill="#007F00"/>
<rect x="581.65" y="182.85" width="3.5" height="3.5" fill="#007F00"/>
<rect x="582.05" y="186.25" width="3.5" height="3.5" fill="#007F00"/>
<rect x="588.65" y="184.25" width="3.5" height="3.5" fill="#007F00"/>
<rect x="582.75" y="199.25" width="3.5" height="3.5" fill="#007F00"/>
<rect x="600.45" y="199.55" width="3.5" height="3.5" fill="#007F00"/>
<rect x="599.75" y="201.65" width="3.5" height="3.5" fill="#007F00"/>
<rect x="589.35" y="184.15" width="3.5" height="3.5" fill="#007F00"/>
</g>
<rect x="668.9" y="192.1" width="79.3" height="27.2" fill="#fff"/>
<circle cx="680.2" cy="199.7" r="0.95" fill="#1a1a1a"/>
<rect x="678.6" y="210.0" width="3.5" height="3.5" fill="#007F00"/>
<text x="695.5" y="202.4" font-size="9.2" text-anchor="start" fill="#262626" font-family='"Liberation Sans", sans-serif' textLength="42.62" lengthAdjust="spacingAndGlyphs">All objects</text>
<text x="695.5" y="214.6" font-size="9.2" text-anchor="start" fill="#262626" font-family='"Liberation Sans", sans-serif' textLength="49.4" lengthAdjust="spacingAndGlyphs">Likely bulge</text>
<text x="468.9" y="15.2" font-size="9.4" text-anchor="end" fill="#262626" font-family='"Liberation Sans", sans-serif' textLength="8.8" lengthAdjust="spacingAndGlyphs">15</text>
<text x="468.9" y="45.26" font-size="9.4" text-anchor="end" fill="#262626" font-family='"Liberation Sans", sans-serif' textLength="8.8" lengthAdjust="spacingAndGlyphs">16</text>
<text x="468.9" y="75.31" font-size="9.4" text-anchor="end" fill="#262626" font-family='"Liberation Sans", sans-serif' textLength="8.8" lengthAdjust="spacingAndGlyphs">17</text>
<text x="468.9" y="105.37" font-size="9.4" text-anchor="end" fill="#262626" font-family='"Liberation Sans", sans-serif' textLength="8.8" lengthAdjust="spacingAndGlyphs">18</text>
<text x="468.9" y="135.43" font-size="9.4" text-anchor="end" fill="#262626" font-family='"Liberation Sans", sans-serif' textLength="8.8" lengthAdjust="spacingAndGlyphs">19</text>
<text x="468.9" y="165.49" font-size="9.4" text-anchor="end" fill="#262626" font-family='"Liberation Sans", sans-serif' textLength="8.8" lengthAdjust="spacingAndGlyphs">20</text>
<text x="468.9" y="195.54" font-size="9.4" text-anchor="end" fill="#262626" font-family='"Liberation Sans", sans-serif' textLength="8.8" lengthAdjust="spacingAndGlyphs">21</text>
<text x="468.9" y="225.6" font-size="9.4" text-anchor="end" fill="#262626" font-family='"Liberation Sans", sans-serif' textLength="8.8" lengthAdjust="spacingAndGlyphs">22</text>
<text x="476.1" y="236.4" font-size="9" text-anchor="middle" fill="#262626" font-family='"Liberation Sans", sans-serif' textLength="11.4" lengthAdjust="spacingAndGlyphs">0.6</text>
<text x="510.62" y="236.4" font-size="9" text-anchor="middle" fill="#262626" font-family='"Liberation Sans", sans-serif' textLength="11.4" lengthAdjust="spacingAndGlyphs">0.8</text>
<text x="545.15" y="236.4" font-size="9" text-anchor="middle" fill="#262626" font-family='"Liberation Sans", sans-serif' textLength="11.4" lengthAdjust="spacingAndGlyphs">1.0</text>
<text x="579.68" y="236.4" font-size="9" text-anchor="middle" fill="#262626" font-family='"Liberation Sans", sans-serif' textLength="11.4" lengthAdjust="spacingAndGlyphs">1.2</text>
<text x="614.2" y="236.4" font-size="9" text-anchor="middle" fill="#262626" font-family='"Liberation Sans", sans-serif' textLength="11.4" lengthAdjust="spacingAndGlyphs">1.4</text>
<text x="648.72" y="236.4" font-size="9" text-anchor="middle" fill="#262626" font-family='"Liberation Sans", sans-serif' textLength="11.4" lengthAdjust="spacingAndGlyphs">1.6</text>
<text x="683.25" y="236.4" font-size="9" text-anchor="middle" fill="#262626" font-family='"Liberation Sans", sans-serif' textLength="11.4" lengthAdjust="spacingAndGlyphs">1.8</text>
<text x="717.77" y="236.4" font-size="9" text-anchor="middle" fill="#262626" font-family='"Liberation Sans", sans-serif' textLength="11.4" lengthAdjust="spacingAndGlyphs">2.0</text>
<text x="752.3" y="236.4" font-size="9" text-anchor="middle" fill="#262626" font-family='"Liberation Sans", sans-serif' textLength="11.4" lengthAdjust="spacingAndGlyphs">2.2</text>
<text x="613.6" y="248.3" font-size="9" text-anchor="middle" fill="#262626" font-family='"Liberation Sans", sans-serif' textLength="66" lengthAdjust="spacingAndGlyphs">F606W - F814W</text>
<text x="0" y="0" font-size="9" text-anchor="middle" fill="#262626" font-family='"Liberation Sans", sans-serif' textLength="28.6" lengthAdjust="spacingAndGlyphs" transform="translate(453.6,119.7) rotate(-90)">F606W</text>
<clipPath id="ca"><rect x="476.4" y="266" width="276" height="210"/></clipPath>
<rect x="476.4" y="266" width="276" height="210" fill="#EAEAF2"/>
<path d="M476.4,266V476M515.83,266V476M555.26,266V476M594.69,266V476M634.11,266V476M673.54,266V476M712.97,266V476M752.4,266V476M476.4,476H752.4M476.4,441H752.4M476.4,406H752.4M476.4,371H752.4M476.4,336H752.4M476.4,301H752.4M476.4,266H752.4" stroke="#FAFAFC" stroke-width="1.4" fill="none"/>
<g clip-path="url(#ca)">
<path d="M476.4,364.6 L515.83,394.9 L555.26,408.8 L594.69,393.3 L634.11,400.7 L673.54,401.5 L712.97,396.2 L752.4,421.5" stroke="#838383" stroke-width="1.9" fill="none"/>
<path d="M476.4,362.6L474.5,366L478.3,366Z" fill="#6E6E6E"/>
<path d="M515.83,392.9L513.93,396.3L517.73,396.3Z" fill="#6E6E6E"/>
<path d="M555.26,406.8L553.36,410.2L557.16,410.2Z" fill="#6E6E6E"/>
<path d="M594.69,391.3L592.79,394.7L596.59,394.7Z" fill="#6E6E6E"/>
<path d="M634.11,398.7L632.21,402.1L636.01,402.1Z" fill="#6E6E6E"/>
<path d="M673.54,399.5L671.64,402.9L675.44,402.9Z" fill="#6E6E6E"/>
<path d="M712.97,394.2L711.07,397.6L714.87,397.6Z" fill="#6E6E6E"/>
<path d="M752.4,419.5L750.5,422.9L754.3,422.9Z" fill="#6E6E6E"/>
<path d="M476.4,354.6 L515.83,372.2 L555.26,373 L594.69,344 L634.11,338.6 L673.54,325.8 L712.97,307.6 L752.4,320.1" stroke="#000" stroke-width="1.9" fill="none" stroke-dasharray="5 4.8"/>
<circle cx="476.4" cy="354.6" r="2.1" fill="#000"/>
<circle cx="515.83" cy="372.2" r="2.1" fill="#000"/>
<circle cx="555.26" cy="373" r="2.1" fill="#000"/>
<circle cx="594.69" cy="344" r="2.1" fill="#000"/>
<circle cx="634.11" cy="338.6" r="2.1" fill="#000"/>
<circle cx="673.54" cy="325.8" r="2.1" fill="#000"/>
<circle cx="712.97" cy="307.6" r="2.1" fill="#000"/>
<circle cx="752.4" cy="320.1" r="2.1" fill="#000"/>
</g>
<rect x="704.2" y="443.9" width="43.8" height="26.9" fill="#fff"/>
<path d="M707.4,450.4H724.8" stroke="#838383" stroke-width="1.6"/>
<path d="M716,448.6L714.3,451.6L717.7,451.6Z" fill="#6E6E6E"/>
<path d="M707.7,463.1H712.4M717.9,463.1H722.9" stroke="#000" stroke-width="1.8"/>
<circle cx="716.4" cy="463.1" r="2.0" fill="#000"/>
<text x="730.8" y="454.1" font-size="10.4" text-anchor="start" fill="#262626" font-family='"Liberation Sans", sans-serif' textLength="12.9" lengthAdjust="spacingAndGlyphs">AIC</text>
<text x="731.3" y="466.3" font-size="10.4" text-anchor="start" fill="#262626" font-family='"Liberation Sans", sans-serif' textLength="12.9" lengthAdjust="spacingAndGlyphs">BIC</text>
<text x="468.9" y="478" font-size="10.2" text-anchor="end" fill="#262626" font-family='"Liberation Sans", sans-serif' textLength="9.26" lengthAdjust="spacingAndGlyphs">20</text>
<text x="468.9" y="443" font-size="10.2" text-anchor="end" fill="#262626" font-family='"Liberation Sans", sans-serif' textLength="9.26" lengthAdjust="spacingAndGlyphs">40</text>
<text x="468.9" y="408" font-size="10.2" text-anchor="end" fill="#262626" font-family='"Liberation Sans", sans-serif' textLength="9.26" lengthAdjust="spacingAndGlyphs">60</text>
<text x="468.9" y="373" font-size="10.2" text-anchor="end" fill="#262626" font-family='"Liberation Sans", sans-serif' textLength="9.26" lengthAdjust="spacingAndGlyphs">80</text>
<text x="468.9" y="338" font-size="10.2" text-anchor="end" fill="#262626" font-family='"Liberation Sans", sans-serif' textLength="13.89" lengthAdjust="spacingAndGlyphs">100</text>
<text x="468.9" y="303" font-size="10.2" text-anchor="end" fill="#262626" font-family='"Liberation Sans", sans-serif' textLength="13.89" lengthAdjust="spacingAndGlyphs">120</text>
<text x="468.9" y="268" font-size="10.2" text-anchor="end" fill="#262626" font-family='"Liberation Sans", sans-serif' textLength="13.89" lengthAdjust="spacingAndGlyphs">140</text>
<text x="476.4" y="487.5" font-size="9" text-anchor="middle" fill="#262626" font-family='"Liberation Sans", sans-serif' textLength="4.4" lengthAdjust="spacingAndGlyphs">1</text>
<text x="515.83" y="487.5" font-size="9" text-anchor="middle" fill="#262626" font-family='"Liberation Sans", sans-serif' textLength="4.4" lengthAdjust="spacingAndGlyphs">2</text>
<text x="555.26" y="487.5" font-size="9" text-anchor="middle" fill="#262626" font-family='"Liberation Sans", sans-serif' textLength="4.4" lengthAdjust="spacingAndGlyphs">3</text>
<text x="594.69" y="487.5" font-size="9" text-anchor="middle" fill="#262626" font-family='"Liberation Sans", sans-serif' textLength="4.4" lengthAdjust="spacingAndGlyphs">4</text>
<text x="634.11" y="487.5" font-size="9" text-anchor="middle" fill="#262626" font-family='"Liberation Sans", sans-serif' textLength="4.4" lengthAdjust="spacingAndGlyphs">5</text>
<text x="673.54" y="487.5" font-size="9" text-anchor="middle" fill="#262626" font-family='"Liberation Sans", sans-serif' textLength="4.4" lengthAdjust="spacingAndGlyphs">6</text>
<text x="712.97" y="487.5" font-size="9" text-anchor="middle" fill="#262626" font-family='"Liberation Sans", sans-serif' textLength="4.4" lengthAdjust="spacingAndGlyphs">7</text>
<text x="752.4" y="487.5" font-size="9" text-anchor="middle" fill="#262626" font-family='"Liberation Sans", sans-serif' textLength="4.4" lengthAdjust="spacingAndGlyphs">8</text>
<text x="613.9" y="499.9" font-size="9" text-anchor="middle" fill="#262626" font-family='"Liberation Sans", sans-serif' textLength="50.7" lengthAdjust="spacingAndGlyphs">Components</text>
<text x="0" y="0" font-size="9.5" text-anchor="middle" fill="#262626" font-family='"Liberation Sans", sans-serif' textLength="43" lengthAdjust="spacingAndGlyphs" transform="translate(448.2,370.4) rotate(-90)">AIC or BIC</text>
</svg></body></html>
